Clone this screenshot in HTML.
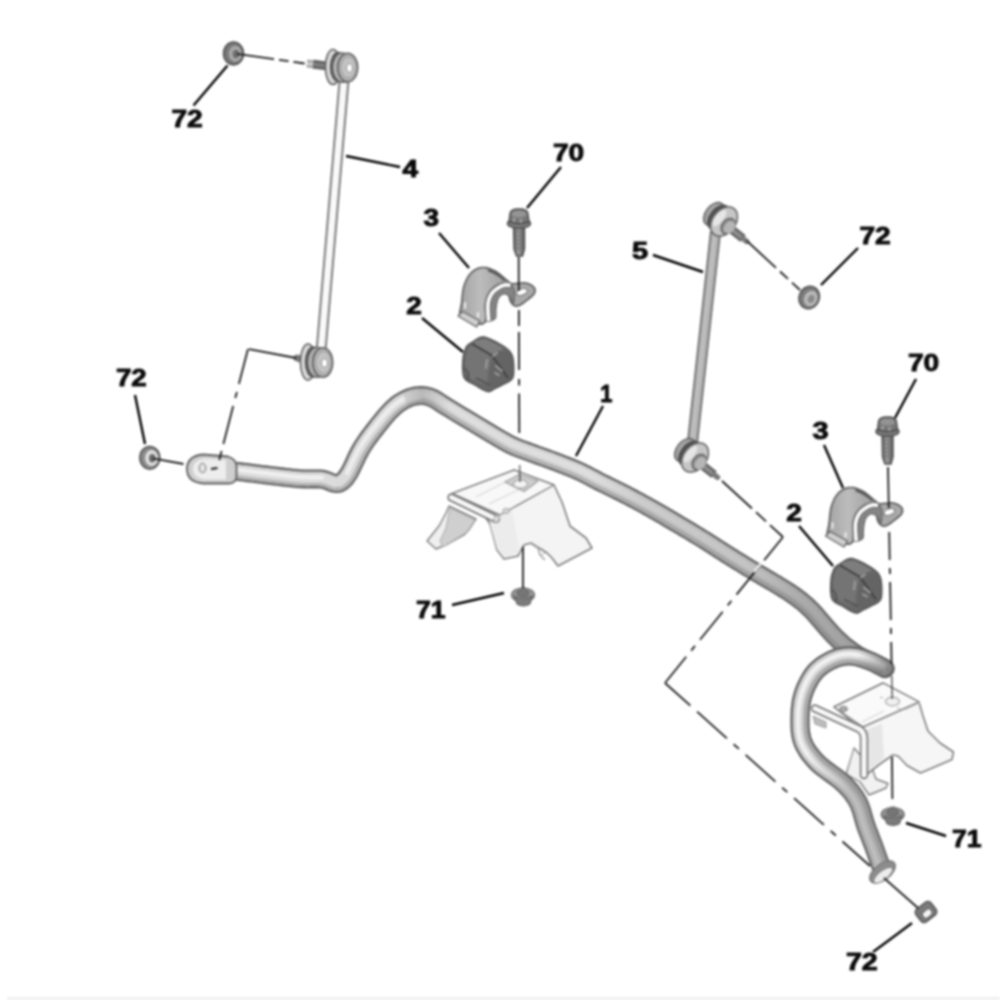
<!DOCTYPE html>
<html lang="en"><head><meta charset="utf-8"><title>Anti-roll bar diagram</title>
<style>
html,body{margin:0;padding:0;background:#fff;}
body{width:1000px;height:1000px;overflow:hidden;position:relative;}
svg{display:block;position:absolute;left:0;top:0;}
.art{filter:blur(0.88px);}
.lbl text{font-family:"Liberation Sans",sans-serif;font-weight:bold;font-size:23.2px;fill:#0a0a0a;stroke:#0a0a0a;stroke-width:.9px;}
.lbl{filter:blur(0.88px);}
</style></head><body>
<svg width="1000" height="1000" viewBox="0 0 1000 1000">
<g class="art">
<defs>
<linearGradient id="gBolt" x1="0" x2="1" y1="0" y2="0"><stop offset="0" stop-color="#5e5e5e"/><stop offset=".45" stop-color="#9c9c9c"/><stop offset="1" stop-color="#585858"/></linearGradient>
<linearGradient id="gClamp" x1="0" x2="1" y1="0" y2="0"><stop offset="0" stop-color="#a2a2a2"/><stop offset=".4" stop-color="#bcbcbc"/><stop offset="1" stop-color="#9a9a9a"/></linearGradient>
<linearGradient id="gTip" gradientUnits="userSpaceOnUse" x1="858" y1="655" x2="892" y2="675"><stop offset="0" stop-color="#6a6a6a" stop-opacity="0"/><stop offset="1" stop-color="#5a5a5a" stop-opacity=".75"/></linearGradient>
<linearGradient id="gPeak" gradientUnits="userSpaceOnUse" x1="395" y1="400" x2="450" y2="400"><stop offset="0" stop-color="#777" stop-opacity="0"/><stop offset=".5" stop-color="#777" stop-opacity=".35"/><stop offset="1" stop-color="#777" stop-opacity="0"/></linearGradient>
<linearGradient id="gJun" gradientUnits="userSpaceOnUse" x1="590" y1="0" x2="850" y2="0"><stop offset="0" stop-color="#707070" stop-opacity="0"/><stop offset=".2" stop-color="#707070" stop-opacity=".16"/><stop offset=".6" stop-color="#707070" stop-opacity=".24"/><stop offset=".8" stop-color="#707070" stop-opacity=".45"/><stop offset="1" stop-color="#707070" stop-opacity=".55"/></linearGradient>
<linearGradient id="gLow" gradientUnits="userSpaceOnUse" x1="810" y1="750" x2="850" y2="790"><stop offset="0" stop-color="#8a8a8a" stop-opacity="0"/><stop offset="1" stop-color="#8a8a8a" stop-opacity=".5"/></linearGradient>
</defs>
<rect x="7" y="997" width="993" height="3" fill="#f0f0f0"/>
<g stroke-linejoin="round">
<path d="M472.0,492.0 514.0,470.0 554.0,485.0 562.0,502.0 570.0,526.0 586.0,538.0 592.0,548.0 558.0,566.0 552.0,558.0 547.0,553.0 531.0,543.0 524.0,545.0 518.0,556.0 504.0,559.0 497.0,550.0 490.0,524.0 486.0,518.0Z" fill="#f4f4f4" stroke="#7e7e7e" stroke-width="1.6"/>
<path d="M449.0,506.0 476.0,519.0 468.0,531.0 464.0,535.0 448.0,544.0 436.0,549.0 427.0,541.0 439.0,526.0 446.0,513.0Z" fill="#efefef" stroke="#7e7e7e" stroke-width="1.4"/>
<path d="M450.0,508.0 475.0,520.0 467.0,532.0 443.0,547.0 440.0,541.0 446.0,528.0Z" fill="#cfcfcf" stroke="#ababab" stroke-width="1"/>
<path d="M452.0,493.5 514.0,470.0 554.0,485.0 500.0,515.0Z" fill="#f8f8f8" stroke="#808080" stroke-width="1.4"/>
<path d="M489,504 L520,489 M476,497 L507,481" stroke="#d0d0d0" stroke-width="1" fill="none"/>
<path d="M500.0,516.0 512.0,510.0 520.0,552.0 504.0,558.0 497.0,549.0 490.0,524.0Z" fill="#ececec" stroke="none"/>
<path d="M451.5,497.5 L496,519" stroke="#707070" stroke-width="8.4" stroke-linecap="round" fill="none"/>
<path d="M451.5,497.5 L496,519" stroke="#f6f6f6" stroke-width="5.2" stroke-linecap="round" fill="none"/>
<ellipse cx="496.5" cy="519" rx="2.6" ry="3.4" fill="#ddd" stroke="#a5a5a5" stroke-width="1" transform="rotate(25 496.5 519)"/>
<path d="M505.0,482.0 519.0,474.5 538.0,481.0 524.0,491.5Z" fill="#cfcfcf" stroke="#9c9c9c" stroke-width="1.2"/>
<ellipse cx="520.5" cy="484" rx="7" ry="4.2" fill="#f4f4f4" stroke="#a8a8a8" stroke-width="1.2"/>
<ellipse cx="506" cy="511" rx="3.2" ry="2.5" fill="#d8d8d8" stroke="#a2a2a2" stroke-width="1"/>
<path d="M530,543 L538,548 L540,555 L545,560" stroke="#a0a0a0" stroke-width="1.5" fill="none"/>
<path d="M539,550 l4,-2 M541,555 l4,-2" stroke="#b0b0b0" stroke-width="1" fill="none"/>
</g>
<g stroke-linejoin="round">
<path d="M846.0,774.0 854.0,748.0 872.0,768.0 876.0,779.0 888.0,783.5 886.0,788.0 869.0,795.0 860.0,782.0Z" fill="#f1f1f1" stroke="#7e7e7e" stroke-width="1.4"/>
<path d="M834.0,707.0 883.0,683.0 919.0,702.0 923.0,716.0 928.0,731.0 940.0,743.0 953.5,752.0 952.0,759.5 920.5,773.0 907.0,765.5 898.0,756.0 893.0,755.0 880.0,764.0 866.0,775.0 864.0,776.0 864.0,736.0 860.0,728.0Z" fill="#f6f6f6" stroke="#7e7e7e" stroke-width="1.6"/>
<path d="M834.0,707.0 883.0,683.0 919.0,702.0 863.0,727.0Z" fill="#fafafa" stroke="#808080" stroke-width="1.4"/>
<path d="M862,722 L884,711 M905,710 L920,703" stroke="#cfcfcf" stroke-width="1" fill="none"/>
<path d="M866.0,730.0 882.0,724.0 884.0,758.0 872.0,768.0 866.0,774.0Z" fill="#e6e6e6" stroke="none"/>
<path d="M813.0,716.0 826.0,722.0 826.0,728.0 815.0,724.0Z" fill="#bdbdbd" stroke="#999" stroke-width="1"/>
<path d="M815,708.5 L859,729 Q864,732 864,738 L864,775" stroke="#707070" stroke-width="8.4" stroke-linecap="round" fill="none"/>
<path d="M815,708.5 L859,729 Q864,732 864,738 L864,775" stroke="#f7f7f7" stroke-width="5.2" stroke-linecap="round" fill="none"/>
<path d="M854,747 L847,773" stroke="#b5b5b5" stroke-width="1.3" fill="none"/>
<ellipse cx="892.5" cy="701.5" rx="7" ry="4.3" fill="#f0f0f0" stroke="#a8a8a8" stroke-width="1.2"/>
<path d="M880,697 l3,1 M897,708 l3,1" stroke="#aaa" stroke-width="1"/>
<ellipse cx="843.5" cy="709" rx="4" ry="2.8" fill="#a8a8a8" stroke="#8d8d8d" stroke-width="1"/>
</g>
<g class="tube"><path d="M236.0,471.2 237.9,471.4 240.4,471.8 243.2,472.1 246.5,472.5 250.0,473.0 253.7,473.4 257.4,473.9 261.1,474.4 264.7,474.8 268.0,475.2 271.2,475.6 274.6,476.0 277.9,476.4 281.3,476.8 284.6,477.2 287.9,477.5 291.1,477.9 294.2,478.2 297.2,478.5 300.0,478.7 302.6,478.9 305.2,478.9 307.7,479.0 310.0,478.9 312.2,478.9 314.4,478.9 316.4,478.9 318.4,478.9 320.2,479.0 322.0,479.2 323.6,479.5 325.1,479.9 326.5,480.3 327.8,480.8 328.9,481.3 330.0,481.8 331.1,482.3 332.1,482.7 333.0,483.0 334.0,483.2 334.9,483.3 335.7,483.4 336.4,483.5 337.1,483.5 337.8,483.5 338.4,483.4 339.0,483.2 339.6,483.0 340.3,482.6 341.0,482.2 341.7,481.7 342.5,481.2 343.2,480.6 343.9,479.9 344.6,479.1 345.4,478.3 346.2,477.3 347.0,476.1 347.9,474.7 348.9,473.2 349.9,471.4 351.0,469.3 352.1,467.0 353.3,464.5 354.5,461.9 355.8,459.2 357.0,456.6 358.3,454.0 359.6,451.5 360.9,449.2 362.2,447.0 363.5,444.9 364.9,442.9 366.2,440.9 367.6,438.9 369.0,437.0 370.4,435.1 371.9,433.1 373.4,431.2 374.9,429.2 376.5,427.2 378.2,425.0 379.9,422.9 381.7,420.7 383.5,418.5 385.2,416.4 387.0,414.4 388.7,412.5 390.3,410.8 391.9,409.2 393.4,407.8 394.8,406.5 396.1,405.4 397.4,404.4 398.6,403.4 399.9,402.6 401.1,401.8 402.4,401.1 403.6,400.4 404.9,399.7 406.2,399.1 407.5,398.5 408.8,397.9 410.1,397.4 411.4,397.0 412.8,396.6 414.1,396.3 415.4,396.0 416.7,395.8 418.0,395.7 419.3,395.6 420.6,395.6 421.8,395.6 423.1,395.6 424.4,395.7 425.7,395.9 427.0,396.2 428.3,396.5 429.6,396.9 431.0,397.4 432.4,398.0 433.7,398.6 435.1,399.4 436.4,400.2 437.8,401.1 439.3,402.1 440.8,403.1 442.4,404.1 444.1,405.2 446.0,406.4 448.0,407.6 450.2,408.9 452.5,410.3 454.9,411.8 457.4,413.3 459.9,414.8 462.4,416.3 465.0,417.9 467.5,419.4 470.0,420.9 472.5,422.4 475.1,424.0 477.7,425.5 480.3,427.1 482.9,428.7 485.5,430.3 488.1,431.8 490.5,433.2 492.8,434.6 495.0,435.9 497.0,437.1 498.9,438.2 500.7,439.2 502.3,440.2 503.9,441.1 505.5,442.0 507.1,442.9 508.7,443.7 510.3,444.6 512.0,445.4 513.8,446.2 515.6,447.0 517.4,447.7 519.3,448.5 521.1,449.2 523.0,449.8 524.8,450.5 526.6,451.1 528.3,451.8 530.0,452.4 531.6,453.0 533.2,453.6 534.7,454.1 536.2,454.7 537.7,455.2 539.1,455.7 540.6,456.2 542.0,456.7 543.5,457.3 545.0,457.8 546.5,458.3 547.9,458.9 549.3,459.4 550.8,459.9 552.2,460.4 553.6,461.0 555.1,461.5 556.7,462.1 558.3,462.7 560.0,463.4 561.8,464.1 563.7,464.8 565.6,465.6 567.6,466.4 569.7,467.2 571.8,468.0 573.8,468.9 575.9,469.8 578.0,470.7 580.0,471.6 582.0,472.5 583.8,473.5 585.7,474.4 587.5,475.3 589.4,476.3 591.3,477.3 593.3,478.4 595.4,479.5 597.6,480.7 600.0,481.9 602.6,483.2 605.4,484.6 608.3,486.0 611.3,487.5 614.4,489.0 617.5,490.6 620.7,492.1 623.8,493.7 627.0,495.3 630.0,496.9 633.0,498.5 635.8,500.0 638.7,501.5 641.5,503.1 644.4,504.6 647.3,506.3 650.3,507.9 653.4,509.7 656.6,511.5 660.0,513.5 663.7,515.6 667.7,518.0 671.9,520.5 676.2,523.0 680.6,525.6 685.0,528.2 689.2,530.7 693.1,533.1 696.8,535.3 700.0,537.3 702.8,539.0 705.4,540.6 707.6,542.0 709.7,543.3 711.6,544.5 713.3,545.7 715.0,546.8 716.6,547.8 718.3,548.9 720.0,550.0 721.7,551.1 723.2,552.0 724.6,552.9 725.9,553.8 727.2,554.6 728.5,555.4 729.9,556.3 731.4,557.3 733.1,558.3 735.0,559.5 737.1,560.8 739.4,562.2 741.9,563.7 744.5,565.3 747.2,567.0 749.9,568.6 752.6,570.2 755.2,571.8 757.7,573.3 760.0,574.7 762.2,576.0 764.4,577.3 766.5,578.5 768.5,579.7 770.5,580.9 772.5,582.0 774.4,583.1 776.3,584.2 778.1,585.4 780.0,586.5 781.8,587.6 783.6,588.8 785.4,589.9 787.2,591.0 788.9,592.1 790.6,593.2 792.2,594.3 793.8,595.4 795.4,596.6 797.0,597.7 798.5,598.9 800.0,600.0 801.5,601.2 803.0,602.4 804.4,603.6 805.8,604.8 807.1,606.0 808.4,607.3 809.7,608.5 811.0,609.7 812.2,610.9 813.4,612.2 814.5,613.4 815.6,614.6 816.6,615.9 817.7,617.1 818.7,618.4 819.8,619.6 820.9,620.9 822.0,622.2 823.2,623.5 824.3,624.9 825.5,626.3 826.7,627.6 827.9,629.0 829.2,630.4 830.4,631.8 831.6,633.1 832.8,634.4 834.0,635.7 835.2,636.9 836.4,638.1 837.6,639.3 838.8,640.4 840.0,641.5 841.2,642.6 842.4,643.7 843.6,644.7 844.8,645.7 846.0,646.7 847.2,647.7 848.4,648.6 849.7,649.5 850.9,650.4 852.1,651.3 853.3,652.2 854.5,653.0 855.7,653.8 856.9,654.5 858.0,655.2 859.1,655.9 860.3,656.5 861.5,657.1 862.6,657.7 863.8,658.2 864.8,658.7 865.8,659.2 866.7,659.6 867.4,659.9 868.0,660.2" fill="none" stroke="#626262" stroke-width="19.0" stroke-linecap="butt" stroke-linejoin="round"/>
<path d="M236.0,471.2 237.9,471.4 240.4,471.8 243.2,472.1 246.5,472.5 250.0,473.0 253.7,473.4 257.4,473.9 261.1,474.4 264.7,474.8 268.0,475.2 271.2,475.6 274.6,476.0 277.9,476.4 281.3,476.8 284.6,477.2 287.9,477.5 291.1,477.9 294.2,478.2 297.2,478.5 300.0,478.7 302.6,478.9 305.2,478.9 307.7,479.0 310.0,478.9 312.2,478.9 314.4,478.9 316.4,478.9 318.4,478.9 320.2,479.0 322.0,479.2 323.6,479.5 325.1,479.9 326.5,480.3 327.8,480.8 328.9,481.3 330.0,481.8 331.1,482.3 332.1,482.7 333.0,483.0 334.0,483.2 334.9,483.3 335.7,483.4 336.4,483.5 337.1,483.5 337.8,483.5 338.4,483.4 339.0,483.2 339.6,483.0 340.3,482.6 341.0,482.2 341.7,481.7 342.5,481.2 343.2,480.6 343.9,479.9 344.6,479.1 345.4,478.3 346.2,477.3 347.0,476.1 347.9,474.7 348.9,473.2 349.9,471.4 351.0,469.3 352.1,467.0 353.3,464.5 354.5,461.9 355.8,459.2 357.0,456.6 358.3,454.0 359.6,451.5 360.9,449.2 362.2,447.0 363.5,444.9 364.9,442.9 366.2,440.9 367.6,438.9 369.0,437.0 370.4,435.1 371.9,433.1 373.4,431.2 374.9,429.2 376.5,427.2 378.2,425.0 379.9,422.9 381.7,420.7 383.5,418.5 385.2,416.4 387.0,414.4 388.7,412.5 390.3,410.8 391.9,409.2 393.4,407.8 394.8,406.5 396.1,405.4 397.4,404.4 398.6,403.4 399.9,402.6 401.1,401.8 402.4,401.1 403.6,400.4 404.9,399.7 406.2,399.1 407.5,398.5 408.8,397.9 410.1,397.4 411.4,397.0 412.8,396.6 414.1,396.3 415.4,396.0 416.7,395.8 418.0,395.7 419.3,395.6 420.6,395.6 421.8,395.6 423.1,395.6 424.4,395.7 425.7,395.9 427.0,396.2 428.3,396.5 429.6,396.9 431.0,397.4 432.4,398.0 433.7,398.6 435.1,399.4 436.4,400.2 437.8,401.1 439.3,402.1 440.8,403.1 442.4,404.1 444.1,405.2 446.0,406.4 448.0,407.6 450.2,408.9 452.5,410.3 454.9,411.8 457.4,413.3 459.9,414.8 462.4,416.3 465.0,417.9 467.5,419.4 470.0,420.9 472.5,422.4 475.1,424.0 477.7,425.5 480.3,427.1 482.9,428.7 485.5,430.3 488.1,431.8 490.5,433.2 492.8,434.6 495.0,435.9 497.0,437.1 498.9,438.2 500.7,439.2 502.3,440.2 503.9,441.1 505.5,442.0 507.1,442.9 508.7,443.7 510.3,444.6 512.0,445.4 513.8,446.2 515.6,447.0 517.4,447.7 519.3,448.5 521.1,449.2 523.0,449.8 524.8,450.5 526.6,451.1 528.3,451.8 530.0,452.4 531.6,453.0 533.2,453.6 534.7,454.1 536.2,454.7 537.7,455.2 539.1,455.7 540.6,456.2 542.0,456.7 543.5,457.3 545.0,457.8 546.5,458.3 547.9,458.9 549.3,459.4 550.8,459.9 552.2,460.4 553.6,461.0 555.1,461.5 556.7,462.1 558.3,462.7 560.0,463.4 561.8,464.1 563.7,464.8 565.6,465.6 567.6,466.4 569.7,467.2 571.8,468.0 573.8,468.9 575.9,469.8 578.0,470.7 580.0,471.6 582.0,472.5 583.8,473.5 585.7,474.4 587.5,475.3 589.4,476.3 591.3,477.3 593.3,478.4 595.4,479.5 597.6,480.7 600.0,481.9 602.6,483.2 605.4,484.6 608.3,486.0 611.3,487.5 614.4,489.0 617.5,490.6 620.7,492.1 623.8,493.7 627.0,495.3 630.0,496.9 633.0,498.5 635.8,500.0 638.7,501.5 641.5,503.1 644.4,504.6 647.3,506.3 650.3,507.9 653.4,509.7 656.6,511.5 660.0,513.5 663.7,515.6 667.7,518.0 671.9,520.5 676.2,523.0 680.6,525.6 685.0,528.2 689.2,530.7 693.1,533.1 696.8,535.3 700.0,537.3 702.8,539.0 705.4,540.6 707.6,542.0 709.7,543.3 711.6,544.5 713.3,545.7 715.0,546.8 716.6,547.8 718.3,548.9 720.0,550.0 721.7,551.1 723.2,552.0 724.6,552.9 725.9,553.8 727.2,554.6 728.5,555.4 729.9,556.3 731.4,557.3 733.1,558.3 735.0,559.5 737.1,560.8 739.4,562.2 741.9,563.7 744.5,565.3 747.2,567.0 749.9,568.6 752.6,570.2 755.2,571.8 757.7,573.3 760.0,574.7 762.2,576.0 764.4,577.3 766.5,578.5 768.5,579.7 770.5,580.9 772.5,582.0 774.4,583.1 776.3,584.2 778.1,585.4 780.0,586.5 781.8,587.6 783.6,588.8 785.4,589.9 787.2,591.0 788.9,592.1 790.6,593.2 792.2,594.3 793.8,595.4 795.4,596.6 797.0,597.7 798.5,598.9 800.0,600.0 801.5,601.2 803.0,602.4 804.4,603.6 805.8,604.8 807.1,606.0 808.4,607.3 809.7,608.5 811.0,609.7 812.2,610.9 813.4,612.2 814.5,613.4 815.6,614.6 816.6,615.9 817.7,617.1 818.7,618.4 819.8,619.6 820.9,620.9 822.0,622.2 823.2,623.5 824.3,624.9 825.5,626.3 826.7,627.6 827.9,629.0 829.2,630.4 830.4,631.8 831.6,633.1 832.8,634.4 834.0,635.7 835.2,636.9 836.4,638.1 837.6,639.3 838.8,640.4 840.0,641.5 841.2,642.6 842.4,643.7 843.6,644.7 844.8,645.7 846.0,646.7 847.2,647.7 848.4,648.6 849.7,649.5 850.9,650.4 852.1,651.3 853.3,652.2 854.5,653.0 855.7,653.8 856.9,654.5 858.0,655.2 859.1,655.9 860.3,656.5 861.5,657.1 862.6,657.7 863.8,658.2 864.8,658.7 865.8,659.2 866.7,659.6 867.4,659.9 868.0,660.2" fill="none" stroke="#d2d2d2" stroke-width="14.4" stroke-linecap="butt" stroke-linejoin="round"/>
<path d="M235.3,476.6 237.2,476.8 239.7,477.1 242.6,477.5 245.8,477.9 249.3,478.3 253.0,478.8 256.7,479.3 260.4,479.7 264.0,480.2 267.4,480.6 270.6,480.9 273.9,481.3 277.3,481.7 280.7,482.1 284.0,482.5 287.3,482.9 290.6,483.3 293.7,483.6 296.7,483.9 299.6,484.1 302.4,484.3 305.1,484.3 307.6,484.4 310.0,484.3 312.3,484.3 314.4,484.3 316.4,484.3 318.2,484.3 319.8,484.4 321.3,484.6 322.5,484.8 323.6,485.0 324.7,485.4 325.7,485.8 326.8,486.2 327.8,486.7 329.0,487.2 330.2,487.7 331.6,488.2 333.0,488.5 334.1,488.7 335.1,488.8 336.1,488.9 337.1,488.9 338.3,488.9 339.5,488.7 340.7,488.4 341.9,487.9 343.0,487.3 344.0,486.7 344.9,486.1 345.8,485.4 346.7,484.6 347.7,483.8 348.6,482.8 349.6,481.7 350.5,480.5 351.5,479.2 352.5,477.7 353.5,476.0 354.7,474.0 355.8,471.7 357.0,469.3 358.2,466.8 359.4,464.2 360.6,461.5 361.9,458.9 363.1,456.4 364.3,454.1 365.6,451.9 366.8,449.9 368.1,447.9 369.4,445.9 370.7,444.0 372.0,442.1 373.3,440.2 374.7,438.3 376.2,436.4 377.7,434.5 379.2,432.5 380.7,430.5 382.4,428.4 384.1,426.3 385.8,424.1 387.6,422.0 389.3,420.0 391.0,418.0 392.7,416.2 394.2,414.5 395.7,413.0 397.0,411.8 398.3,410.6 399.5,409.6 400.7,408.7 401.8,407.8 402.9,407.1 403.9,406.4 405.0,405.8 406.2,405.1 407.4,404.5 408.5,403.9 409.7,403.4 410.8,402.9 411.9,402.5 413.0,402.2 414.1,401.8 415.2,401.6 416.3,401.4 417.4,401.2 418.5,401.1 419.6,401.0 420.7,401.0 421.7,401.0 422.7,401.0 423.7,401.1 424.8,401.2 425.8,401.4 426.8,401.7 427.9,402.0 429.0,402.4 430.1,402.9 431.2,403.4 432.4,404.1 433.6,404.8 434.9,405.6 436.3,406.6 437.8,407.6 439.4,408.7 441.3,409.8 443.2,411.0 445.2,412.2 447.4,413.6 449.7,415.0 452.1,416.4 454.6,417.9 457.1,419.4 459.6,421.0 462.2,422.5 464.7,424.0 467.2,425.5 469.7,427.0 472.3,428.6 474.9,430.2 477.5,431.8 480.1,433.3 482.7,434.9 485.3,436.4 487.7,437.9 490.1,439.3 492.3,440.6 494.3,441.7 496.1,442.8 497.9,443.9 499.6,444.9 501.2,445.8 502.9,446.8 504.5,447.7 506.2,448.5 507.9,449.4 509.7,450.3 511.6,451.1 513.5,452.0 515.4,452.7 517.3,453.5 519.2,454.2 521.1,454.9 522.9,455.6 524.7,456.2 526.5,456.8 528.1,457.5 529.8,458.1 531.3,458.7 532.9,459.2 534.4,459.8 535.9,460.3 537.3,460.8 538.8,461.3 540.2,461.8 541.7,462.3 543.1,462.9 544.6,463.4 546.1,463.9 547.5,464.5 548.9,465.0 550.3,465.5 551.8,466.0 553.2,466.6 554.7,467.2 556.3,467.8 558.0,468.4 559.8,469.1 561.7,469.9 563.7,470.6 565.7,471.4 567.7,472.2 569.7,473.0 571.8,473.9 573.8,474.7 575.8,475.6 577.7,476.5 579.6,477.4 581.4,478.3 583.2,479.2 585.0,480.1 586.8,481.1 588.7,482.1 590.7,483.2 592.9,484.3 595.1,485.5 597.6,486.7 600.2,488.0 603.0,489.4 605.9,490.8 608.9,492.3 612.0,493.9 615.1,495.4 618.3,497.0 621.4,498.5 624.5,500.1 627.5,501.7 630.4,503.2 633.3,504.8 636.1,506.3 638.9,507.8 641.8,509.4 644.6,511.0 647.6,512.6 650.7,514.4 653.9,516.2 657.3,518.2 661.0,520.3 664.9,522.6 669.1,525.1 673.5,527.7 677.9,530.3 682.2,532.9 686.4,535.4 690.3,537.8 694.0,540.0 697.2,541.9 700.0,543.6 702.5,545.2 704.7,546.6 706.8,547.9 708.6,549.1 710.4,550.2 712.1,551.3 713.7,552.4 715.4,553.5 717.1,554.6 718.8,555.6 720.3,556.6 721.6,557.5 723.0,558.3 724.3,559.1 725.6,560.0 727.0,560.9 728.6,561.9 730.3,562.9 732.2,564.1 734.3,565.4 736.6,566.8 739.1,568.4 741.7,569.9 744.4,571.6 747.1,573.2 749.8,574.8 752.4,576.4 754.9,577.9 757.2,579.3 759.5,580.7 761.6,581.9 763.7,583.2 765.8,584.4 767.8,585.5 769.7,586.7 771.6,587.8 773.5,588.9 775.3,590.0 777.2,591.1 779.0,592.2 780.8,593.3 782.5,594.4 784.3,595.5 785.9,596.6 787.6,597.7 789.2,598.8 790.7,599.8 792.3,600.9 793.8,602.0 795.2,603.1 796.7,604.3 798.1,605.4 799.5,606.6 800.9,607.7 802.2,608.9 803.5,610.0 804.8,611.2 806.0,612.4 807.2,613.5 808.3,614.7 809.4,615.8 810.5,617.0 811.5,618.1 812.5,619.3 813.5,620.6 814.6,621.8 815.7,623.1 816.8,624.4 817.9,625.8 819.1,627.1 820.3,628.4 821.4,629.8 822.6,631.2 823.9,632.6 825.1,634.0 826.3,635.4 827.6,636.8 828.9,638.2 830.1,639.5 831.4,640.7 832.6,642.0 833.9,643.2 835.1,644.3 836.4,645.5 837.6,646.6 838.8,647.7 840.1,648.8 841.3,649.9 842.6,650.9 843.9,651.9 845.2,652.9 846.4,653.9 847.7,654.8 849.0,655.7 850.3,656.6 851.5,657.5 852.8,658.3 854.0,659.1 855.2,659.8 856.5,660.6 857.7,661.3 859.0,661.9 860.3,662.5 861.4,663.1 862.6,663.6 863.6,664.1 864.4,664.5 865.1,664.8 865.7,665.1" fill="none" stroke="#b2b2b2" stroke-width="3.6" stroke-linecap="butt" stroke-linejoin="round"/>
<path d="M236.2,469.7 238.1,470.0 240.5,470.3 243.4,470.6 246.7,471.0 250.2,471.5 253.9,472.0 257.6,472.4 261.3,472.9 264.8,473.3 268.2,473.7 271.4,474.1 274.7,474.5 278.1,474.9 281.5,475.3 284.8,475.7 288.1,476.0 291.3,476.4 294.4,476.7 297.3,477.0 300.1,477.2 302.7,477.4 305.2,477.4 307.7,477.5 310.0,477.4 312.2,477.4 314.4,477.4 316.5,477.4 318.5,477.4 320.4,477.5 322.2,477.7 323.9,478.0 325.5,478.4 327.0,478.9 328.3,479.4 329.5,479.9 330.7,480.4 331.7,480.9 332.6,481.3 333.5,481.5 334.3,481.7 335.1,481.9 335.9,482.0 336.5,482.0 337.1,482.0 337.6,482.0 338.1,481.9 338.5,481.8 339.0,481.6 339.5,481.3 340.2,480.9 340.9,480.5 341.5,480.0 342.2,479.4 342.9,478.8 343.5,478.1 344.2,477.3 345.0,476.4 345.8,475.2 346.7,473.9 347.6,472.4 348.6,470.7 349.7,468.6 350.8,466.3 352.0,463.9 353.2,461.3 354.4,458.6 355.7,455.9 357.0,453.3 358.3,450.8 359.6,448.4 360.9,446.3 362.3,444.1 363.6,442.1 365.0,440.1 366.4,438.1 367.8,436.1 369.2,434.2 370.7,432.2 372.2,430.3 373.7,428.3 375.3,426.2 377.0,424.1 378.7,421.9 380.5,419.7 382.3,417.6 384.1,415.5 385.9,413.4 387.6,411.5 389.3,409.7 390.8,408.1 392.3,406.7 393.8,405.4 395.1,404.2 396.5,403.2 397.8,402.2 399.1,401.3 400.3,400.5 401.6,399.8 402.9,399.1 404.2,398.4 405.6,397.7 406.9,397.1 408.3,396.5 409.6,396.0 411.0,395.6 412.4,395.2 413.8,394.8 415.1,394.6 416.5,394.4 417.9,394.2 419.2,394.1 420.5,394.1 421.9,394.1 423.2,394.1 424.6,394.2 425.9,394.4 427.3,394.7 428.7,395.1 430.1,395.5 431.5,396.0 433.0,396.6 434.4,397.3 435.8,398.1 437.2,398.9 438.6,399.8 440.1,400.8 441.6,401.8 443.2,402.9 444.9,404.0 446.8,405.1 448.8,406.3 451.0,407.7 453.3,409.0 455.7,410.5 458.2,412.0 460.7,413.5 463.2,415.1 465.8,416.6 468.3,418.1 470.8,419.6 473.3,421.1 475.8,422.7 478.5,424.3 481.1,425.8 483.7,427.4 486.3,429.0 488.8,430.5 491.3,432.0 493.6,433.3 495.8,434.6 497.8,435.8 499.7,436.9 501.4,437.9 503.1,438.9 504.7,439.8 506.2,440.7 507.8,441.6 509.4,442.4 511.0,443.2 512.6,444.0 514.4,444.8 516.2,445.6 518.0,446.3 519.8,447.1 521.6,447.8 523.5,448.4 525.3,449.1 527.1,449.7 528.8,450.4 530.5,451.0 532.1,451.6 533.7,452.2 535.2,452.7 536.7,453.3 538.2,453.8 539.6,454.3 541.1,454.8 542.6,455.3 544.0,455.8 545.5,456.4 547.0,456.9 548.4,457.5 549.9,458.0 551.3,458.5 552.7,459.0 554.2,459.6 555.7,460.1 557.2,460.7 558.8,461.3 560.5,462.0 562.3,462.7 564.2,463.4 566.2,464.2 568.2,465.0 570.2,465.8 572.3,466.7 574.4,467.5 576.5,468.4 578.6,469.3 580.6,470.2 582.6,471.2 584.5,472.1 586.4,473.1 588.2,474.0 590.1,475.0 592.0,476.0 594.0,477.1 596.1,478.2 598.3,479.3 600.7,480.6 603.3,481.9 606.0,483.2 608.9,484.7 611.9,486.1 615.0,487.7 618.2,489.2 621.4,490.8 624.5,492.4 627.6,494.0 630.7,495.6 633.7,497.1 636.5,498.7 639.4,500.2 642.2,501.8 645.1,503.3 648.0,505.0 651.0,506.6 654.1,508.4 657.3,510.2 660.8,512.2 664.4,514.3 668.4,516.7 672.7,519.2 677.0,521.7 681.4,524.4 685.7,526.9 689.9,529.5 693.9,531.9 697.5,534.1 700.8,536.0 703.6,537.8 706.2,539.3 708.4,540.8 710.5,542.1 712.4,543.3 714.1,544.4 715.8,545.5 717.5,546.6 719.1,547.6 720.8,548.7 722.5,549.8 724.0,550.7 725.4,551.6 726.7,552.5 728.0,553.3 729.3,554.2 730.7,555.1 732.2,556.0 733.9,557.1 735.8,558.2 737.9,559.5 740.2,561.0 742.7,562.5 745.3,564.1 748.0,565.7 750.7,567.3 753.3,568.9 755.9,570.5 758.4,572.0 760.8,573.4 763.0,574.7 765.1,576.0 767.2,577.2 769.3,578.4 771.3,579.6 773.2,580.7 775.1,581.8 777.0,582.9 778.9,584.1 780.8,585.2 782.6,586.4 784.4,587.5 786.2,588.6 788.0,589.7 789.7,590.8 791.4,591.9 793.1,593.1 794.7,594.2 796.3,595.3 797.9,596.5 799.5,597.7 801.0,598.9 802.5,600.1 803.9,601.3 805.4,602.5 806.8,603.7 808.1,604.9 809.5,606.2 810.8,607.4 812.1,608.6 813.3,609.9 814.5,611.1 815.6,612.4 816.7,613.6 817.8,614.9 818.8,616.1 819.9,617.4 820.9,618.7 822.0,619.9 823.1,621.2 824.3,622.5 825.5,623.9 826.7,625.3 827.9,626.7 829.1,628.1 830.3,629.4 831.5,630.8 832.7,632.1 833.9,633.4 835.1,634.7 836.3,635.9 837.4,637.0 838.6,638.2 839.8,639.3 841.0,640.4 842.2,641.5 843.4,642.5 844.6,643.6 845.8,644.6 846.9,645.5 848.1,646.5 849.3,647.4 850.6,648.3 851.8,649.2 853.0,650.1 854.2,650.9 855.4,651.7 856.5,652.5 857.7,653.2 858.8,653.9 859.9,654.6 861.0,655.2 862.1,655.8 863.3,656.3 864.4,656.9 865.4,657.4 866.4,657.8 867.3,658.2 868.1,658.6 868.6,658.8" fill="none" stroke="#dedede" stroke-width="6" stroke-linecap="butt" stroke-linejoin="round"/></g>
<path d="M560.0,463.4 561.2,463.9 562.7,464.5 564.5,465.2 566.6,466.0 568.8,466.9 571.0,467.8 573.4,468.7 575.7,469.7 577.9,470.7 580.0,471.6 582.0,472.5 583.8,473.5 585.7,474.4 587.5,475.3 589.4,476.3 591.3,477.3 593.3,478.4 595.4,479.5 597.6,480.7 600.0,481.9 602.6,483.2 605.4,484.6 608.3,486.0 611.3,487.5 614.4,489.0 617.5,490.6 620.7,492.1 623.8,493.7 627.0,495.3 630.0,496.9 633.0,498.5 635.8,500.0 638.7,501.5 641.5,503.1 644.4,504.6 647.3,506.3 650.3,507.9 653.4,509.7 656.6,511.5 660.0,513.5 663.7,515.6 667.7,518.0 671.9,520.5 676.2,523.0 680.6,525.6 685.0,528.2 689.2,530.7 693.1,533.1 696.8,535.3 700.0,537.3 702.8,539.0 705.4,540.6 707.6,542.0 709.7,543.3 711.6,544.5 713.3,545.7 715.0,546.8 716.6,547.8 718.3,548.9 720.0,550.0 721.7,551.1 723.2,552.0 724.6,552.9 725.9,553.8 727.2,554.6 728.5,555.4 729.9,556.3 731.4,557.3 733.1,558.3 735.0,559.5 737.1,560.8 739.4,562.2 741.9,563.7 744.5,565.3 747.2,567.0 749.9,568.6 752.6,570.2 755.2,571.8 757.7,573.3 760.0,574.7 762.2,576.0 764.4,577.3 766.5,578.5 768.5,579.7 770.5,580.9 772.5,582.0 774.4,583.1 776.3,584.2 778.1,585.4 780.0,586.5 781.8,587.6 783.6,588.8 785.4,589.9 787.2,591.0 788.9,592.1 790.6,593.2 792.2,594.3 793.8,595.4 795.4,596.6 797.0,597.7 798.5,598.9 800.0,600.0 801.5,601.2 803.0,602.4 804.4,603.6 805.8,604.8 807.1,606.0 808.4,607.3 809.7,608.5 811.0,609.7 812.2,610.9 813.4,612.2 814.5,613.4 815.6,614.6 816.6,615.9 817.7,617.1 818.7,618.4 819.8,619.6 820.9,620.9 822.0,622.2 823.2,623.5 824.3,624.9 825.5,626.3 826.7,627.6 827.9,629.0 829.2,630.4 830.4,631.8 831.6,633.1 832.8,634.4 834.0,635.7 835.2,636.9 836.4,638.1 837.6,639.3 838.8,640.4 840.0,641.5 841.2,642.6 842.4,643.7 843.6,644.7 844.8,645.7 846.0,646.7 847.2,647.7 848.4,648.6 849.7,649.5 850.9,650.4 852.1,651.3 853.3,652.2 854.5,653.0 855.7,653.8 856.9,654.5 858.0,655.2 859.1,655.9 860.3,656.5 861.5,657.1 862.6,657.7 863.8,658.2 864.8,658.7 865.8,659.2 866.7,659.6 867.4,659.9 868.0,660.2" fill="none" stroke="url(#gJun)" stroke-width="15" stroke-linecap="butt"/>
<path class="tube" d="M236.2,470.8 238.1,471.0 240.5,471.4 243.4,471.7 246.6,472.1 250.2,472.6 253.8,473.1 257.5,473.5 261.2,474.0 264.8,474.4 268.1,474.8 271.4,475.2 274.7,475.6 278.1,476.0 281.4,476.4 284.8,476.8 288.1,477.1 291.3,477.5 294.4,477.8 297.3,478.1 300.1,478.3 302.7,478.5 305.2,478.5 307.7,478.6 310.0,478.5 312.2,478.5 314.4,478.5 316.5,478.5 318.4,478.5 320.3,478.6 322.2,478.8 323.9,479.1 325.5,479.5 327.1,479.9 328.5,480.4 329.8,480.9 331.0,481.4 332.1,481.9 333.0,482.3 333.8,482.6 334.4,482.9" fill="none" stroke="#dcdcdc" stroke-width="9" stroke-opacity="0.9" stroke-linecap="round"/>
<path class="tube" d="M236.3,469.5 238.2,469.8 240.7,470.1 243.6,470.4 246.8,470.9 250.3,471.3 254.0,471.8 257.7,472.2 261.4,472.7 265.0,473.1 268.3,473.5 271.5,473.9 274.9,474.3 278.2,474.7 281.6,475.1 284.9,475.5 288.2,475.9 291.4,476.2 294.5,476.5 297.4,476.8 300.2,477.0 302.8,477.2 305.5,477.3 308.1,477.4 310.6,477.4 313.0,477.5 315.3,477.5 317.3,477.5 319.2,477.5 320.8,477.5 322.0,477.5" fill="none" stroke="#f2f2f2" stroke-width="4" stroke-opacity="0.9" stroke-linecap="round"/>
<path class="tube" d="M340.1,482.2 340.6,481.7 341.2,481.1 341.9,480.5 342.6,479.9 343.4,479.1 344.2,478.3 345.1,477.3 346.0,476.2 346.9,474.9 347.9,473.4 348.9,471.6 349.9,469.6 351.1,467.3 352.2,464.8 353.4,462.2 354.7,459.5 355.9,456.9 357.2,454.2 358.5,451.7 359.9,449.4 361.2,447.2 362.5,445.1 363.9,443.0 365.2,441.0 366.6,439.1 368.0,437.1 369.5,435.2 370.9,433.2 372.4,431.3 374.0,429.3 375.6,427.2 377.2,425.1 379.0,422.9 380.7,420.7 382.5,418.6 384.3,416.5 386.1,414.4 387.8,412.5 389.5,410.7 391.1,409.1 392.5,407.7 394.0,406.4 395.3,405.3 396.7,404.2 397.9,403.3 399.2,402.4 400.5,401.6 401.8,400.8 403.0,400.1 404.4,399.4 405.8,398.8 407.3,398.2 408.9,397.6 410.4,397.2 412.0,396.7 413.4,396.4 414.8,396.1 415.9,395.8 416.9,395.6 417.7,395.3" fill="none" stroke="#dadada" stroke-width="9" stroke-opacity="0.9" stroke-linecap="round"/>
<path class="tube" d="M346.9,473.0 347.6,471.6 348.5,469.7 349.6,467.5 350.8,465.0 352.0,462.3 353.4,459.5 354.8,456.7 356.2,453.9 357.6,451.3 359.0,448.9 360.3,446.7 361.7,444.6 363.0,442.5 364.4,440.5 365.8,438.5 367.2,436.5 368.7,434.6 370.1,432.6 371.6,430.6 373.2,428.7 374.8,426.6 376.5,424.5 378.2,422.3 380.0,420.1 381.8,417.9 383.6,415.8 385.4,413.8 387.1,411.8 388.8,410.1 390.4,408.4 392.0,406.9 393.6,405.6 395.2,404.3 396.7,403.2 398.2,402.2 399.6,401.3 400.9,400.5 402.0,399.8 402.9,399.2 403.7,398.7" fill="none" stroke="#f0f0f0" stroke-width="4" stroke-opacity="0.9" stroke-linecap="round"/>
<path d="M404.9,400.5 405.7,400.2 406.7,399.9 407.9,399.4 409.2,398.9 410.6,398.4 412.1,397.9 413.7,397.4 415.2,397.0 416.6,396.7 418.0,396.5 419.3,396.4 420.6,396.4 421.8,396.4 423.1,396.4 424.4,396.5 425.7,396.7 427.0,397.0 428.3,397.3 429.6,397.7 431.0,398.2 432.4,398.8 433.7,399.4 435.1,400.2 436.4,401.0 437.8,401.9 439.3,402.9 440.8,403.9 442.4,404.9 444.1,406.0 446.0,407.2 448.0,408.4 450.2,409.7 452.5,411.1 454.9,412.6 457.4,414.1 459.9,415.6 462.4,417.1 465.0,418.7 467.5,420.2 470.0,421.7 472.6,423.2 475.3,424.9 478.2,426.6 481.1,428.4 484.0,430.1 486.8,431.8 489.3,433.3 491.6,434.7 493.5,435.8 495.0,436.7" fill="none" stroke="url(#gPeak)" stroke-width="17" stroke-linecap="butt"/>
<g class="tube"><path d="M885.0,668.5 884.1,668.0 883.0,667.4 881.7,666.7 880.2,665.9 878.6,665.1 876.9,664.2 875.2,663.3 873.4,662.5 871.7,661.7 870.0,661.0 868.3,660.4 866.6,659.7 864.8,659.1 863.0,658.4 861.2,657.8 859.3,657.3 857.5,656.8 855.6,656.4 853.8,656.2 852.0,656.0 850.2,655.9 848.4,655.9 846.6,656.0 844.8,656.1 843.1,656.4 841.3,656.7 839.5,657.1 837.7,657.6 835.8,658.3 834.0,659.0 832.1,659.8 830.2,660.8 828.2,661.9 826.1,663.0 824.1,664.2 822.1,665.6 820.2,667.1 818.4,668.6 816.6,670.2 815.0,672.0 813.5,673.9 812.0,675.9 810.6,678.1 809.3,680.4 808.0,682.8 806.8,685.2 805.7,687.6 804.7,690.1 803.8,692.6 803.0,695.0 802.3,697.4 801.7,699.9 801.2,702.4 800.9,705.0 800.6,707.5 800.3,710.1 800.2,712.6 800.1,715.1 800.0,717.6 800.0,720.0 800.0,722.4 800.0,724.7 800.1,727.0 800.2,729.3 800.4,731.5 800.7,733.8 801.1,736.0 801.6,738.2 802.2,740.3 803.0,742.5 803.9,744.6 805.0,746.7 806.2,748.8 807.4,750.9 808.8,752.9 810.4,754.9 812.0,756.9 813.7,759.0 815.6,761.0 817.5,763.0 819.7,765.0 822.1,767.0 824.7,769.1 827.4,771.1 830.2,773.1 833.0,775.1 835.8,777.1 838.4,779.1 840.8,781.0 843.0,783.0 845.0,784.9 846.8,786.8 848.5,788.6 850.1,790.4 851.6,792.2 853.0,794.1 854.3,796.0 855.6,797.9 856.8,799.9 858.0,802.0 859.1,804.2 860.0,806.5 860.9,808.9 861.7,811.4 862.4,813.9 863.1,816.4 863.8,818.9 864.5,821.3 865.2,823.7 866.0,826.0 866.8,828.2 867.6,830.5 868.5,832.6 869.3,834.8 870.1,836.9 870.9,839.0 871.7,841.1 872.5,843.1 873.3,845.1 874.0,847.0 874.7,848.9 875.4,850.9 876.1,852.9 876.8,854.9 877.5,856.8 878.1,858.6 878.7,860.3 879.2,861.8 879.7,863.0 880.0,864.0" fill="none" stroke="#626262" stroke-width="19.3" stroke-linecap="round" stroke-linejoin="round"/>
<path d="M885.0,668.5 884.1,668.0 883.0,667.4 881.7,666.7 880.2,665.9 878.6,665.1 876.9,664.2 875.2,663.3 873.4,662.5 871.7,661.7 870.0,661.0 868.3,660.4 866.6,659.7 864.8,659.1 863.0,658.4 861.2,657.8 859.3,657.3 857.5,656.8 855.6,656.4 853.8,656.2 852.0,656.0 850.2,655.9 848.4,655.9 846.6,656.0 844.8,656.1 843.1,656.4 841.3,656.7 839.5,657.1 837.7,657.6 835.8,658.3 834.0,659.0 832.1,659.8 830.2,660.8 828.2,661.9 826.1,663.0 824.1,664.2 822.1,665.6 820.2,667.1 818.4,668.6 816.6,670.2 815.0,672.0 813.5,673.9 812.0,675.9 810.6,678.1 809.3,680.4 808.0,682.8 806.8,685.2 805.7,687.6 804.7,690.1 803.8,692.6 803.0,695.0 802.3,697.4 801.7,699.9 801.2,702.4 800.9,705.0 800.6,707.5 800.3,710.1 800.2,712.6 800.1,715.1 800.0,717.6 800.0,720.0 800.0,722.4 800.0,724.7 800.1,727.0 800.2,729.3 800.4,731.5 800.7,733.8 801.1,736.0 801.6,738.2 802.2,740.3 803.0,742.5 803.9,744.6 805.0,746.7 806.2,748.8 807.4,750.9 808.8,752.9 810.4,754.9 812.0,756.9 813.7,759.0 815.6,761.0 817.5,763.0 819.7,765.0 822.1,767.0 824.7,769.1 827.4,771.1 830.2,773.1 833.0,775.1 835.8,777.1 838.4,779.1 840.8,781.0 843.0,783.0 845.0,784.9 846.8,786.8 848.5,788.6 850.1,790.4 851.6,792.2 853.0,794.1 854.3,796.0 855.6,797.9 856.8,799.9 858.0,802.0 859.1,804.2 860.0,806.5 860.9,808.9 861.7,811.4 862.4,813.9 863.1,816.4 863.8,818.9 864.5,821.3 865.2,823.7 866.0,826.0 866.8,828.2 867.6,830.5 868.5,832.6 869.3,834.8 870.1,836.9 870.9,839.0 871.7,841.1 872.5,843.1 873.3,845.1 874.0,847.0 874.7,848.9 875.4,850.9 876.1,852.9 876.8,854.9 877.5,856.8 878.1,858.6 878.7,860.3 879.2,861.8 879.7,863.0 880.0,864.0" fill="none" stroke="#cdcdcd" stroke-width="14.7" stroke-linecap="round" stroke-linejoin="round"/>
<path d="M882.5,673.3 881.6,672.8 880.4,672.2 879.1,671.5 877.7,670.7 876.1,669.8 874.5,669.0 872.8,668.1 871.2,667.4 869.6,666.7 868.0,666.0 866.4,665.4 864.7,664.8 863.0,664.2 861.3,663.6 859.6,663.0 857.9,662.5 856.3,662.1 854.7,661.8 853.2,661.5 851.7,661.4 850.1,661.3 848.5,661.3 847.0,661.4 845.4,661.5 843.9,661.7 842.4,662.0 840.8,662.3 839.3,662.8 837.7,663.3 836.1,664.0 834.4,664.7 832.6,665.6 830.7,666.6 828.9,667.6 827.1,668.8 825.3,670.0 823.6,671.3 822.0,672.6 820.5,674.1 819.1,675.5 817.8,677.2 816.5,679.0 815.2,680.9 814.0,683.0 812.8,685.2 811.7,687.5 810.7,689.8 809.7,692.1 808.9,694.4 808.2,696.6 807.5,698.8 807.0,701.0 806.6,703.3 806.2,705.7 805.9,708.1 805.7,710.5 805.6,712.9 805.5,715.3 805.4,717.7 805.4,720.0 805.4,722.3 805.4,724.6 805.5,726.8 805.6,728.9 805.8,731.0 806.0,733.0 806.4,734.9 806.8,736.8 807.3,738.6 808.0,740.5 808.8,742.3 809.8,744.2 810.8,746.1 812.0,747.9 813.2,749.8 814.6,751.6 816.1,753.5 817.8,755.4 819.5,757.3 821.3,759.2 823.2,761.0 825.5,762.8 827.9,764.8 830.6,766.7 833.4,768.7 836.2,770.7 839.0,772.7 841.7,774.8 844.3,776.9 846.7,779.1 848.8,781.1 850.7,783.1 852.5,785.0 854.2,786.9 855.8,788.9 857.3,790.9 858.8,792.9 860.2,795.0 861.5,797.2 862.8,799.5 864.0,802.0 865.1,804.6 866.0,807.2 866.9,809.8 867.6,812.4 868.3,814.9 869.0,817.4 869.7,819.8 870.4,822.1 871.1,824.2 871.9,826.4 872.7,828.6 873.5,830.7 874.3,832.9 875.2,835.0 876.0,837.1 876.8,839.1 877.6,841.2 878.3,843.2 879.1,845.1 879.8,847.1 880.5,849.1 881.2,851.1 881.9,853.1 882.6,855.0 883.2,856.8 883.8,858.5 884.3,860.0 884.8,861.2 885.1,862.2" fill="none" stroke="#a8a8a8" stroke-width="3.6" stroke-linecap="butt" stroke-linejoin="round"/>
<path d="M885.7,667.2 884.8,666.7 883.7,666.1 882.4,665.4 880.9,664.6 879.3,663.7 877.6,662.8 875.9,662.0 874.1,661.1 872.3,660.3 870.5,659.6 868.9,659.0 867.1,658.3 865.3,657.7 863.5,657.0 861.6,656.4 859.7,655.9 857.8,655.4 855.9,655.0 854.0,654.7 852.1,654.5 850.2,654.4 848.4,654.4 846.5,654.5 844.7,654.7 842.8,654.9 841.0,655.2 839.1,655.7 837.2,656.2 835.3,656.9 833.4,657.6 831.5,658.5 829.5,659.5 827.4,660.5 825.4,661.7 823.3,663.0 821.3,664.4 819.3,665.9 817.4,667.5 815.6,669.2 813.9,671.0 812.3,673.0 810.8,675.1 809.3,677.3 808.0,679.7 806.7,682.1 805.5,684.5 804.3,687.0 803.3,689.6 802.4,692.1 801.6,694.6 800.9,697.1 800.3,699.6 799.8,702.2 799.4,704.8 799.1,707.4 798.8,710.0 798.7,712.5 798.6,715.1 798.5,717.6 798.5,720.0 798.5,722.4 798.5,724.7 798.6,727.1 798.7,729.4 798.9,731.7 799.2,734.0 799.6,736.3 800.1,738.5 800.8,740.8 801.6,743.1 802.6,745.3 803.7,747.4 804.9,749.6 806.2,751.7 807.6,753.8 809.2,755.9 810.8,757.9 812.6,760.0 814.5,762.0 816.4,764.1 818.7,766.1 821.1,768.2 823.8,770.3 826.5,772.3 829.3,774.3 832.2,776.3 834.9,778.3 837.5,780.3 839.9,782.2 842.0,784.1 843.9,786.0 845.7,787.8 847.4,789.6 849.0,791.4 850.4,793.2 851.8,795.0 853.1,796.8 854.3,798.7 855.5,800.7 856.7,802.7 857.7,804.8 858.6,807.1 859.5,809.4 860.3,811.8 861.0,814.3 861.7,816.8 862.4,819.3 863.1,821.7 863.8,824.2 864.6,826.5 865.4,828.8 866.2,831.0 867.1,833.2 867.9,835.3 868.7,837.5 869.5,839.6 870.3,841.6 871.1,843.6 871.9,845.6 872.6,847.5 873.3,849.4 874.0,851.4 874.7,853.4 875.4,855.4 876.1,857.3 876.7,859.1 877.3,860.8 877.8,862.2 878.2,863.5 878.6,864.5" fill="none" stroke="#e2e2e2" stroke-width="6" stroke-linecap="butt" stroke-linejoin="round"/>
<path d="M886.0,666.5 885.2,666.1 884.1,665.5 882.8,664.8 881.3,664.0 879.7,663.1 877.9,662.2 876.2,661.3 874.4,660.5 872.6,659.7 870.8,659.0 869.1,658.3 867.4,657.6 865.6,657.0 863.7,656.4 861.8,655.7 859.9,655.2 858.0,654.7 856.0,654.3 854.1,654.0 852.1,653.8 850.2,653.7 848.4,653.7 846.5,653.8 844.6,654.0 842.7,654.2 840.8,654.5 838.9,655.0 837.0,655.5 835.1,656.2 833.1,657.0 831.2,657.9 829.2,658.8 827.1,659.9 825.0,661.1 822.9,662.4 820.9,663.8 818.8,665.3 816.9,667.0 815.1,668.7 813.3,670.6 811.7,672.6 810.2,674.7 808.7,676.9 807.3,679.3 806.0,681.7 804.8,684.2 803.7,686.8 802.7,689.3 801.7,691.8 800.9,694.4 800.2,696.9 799.6,699.5 799.1,702.1 798.7,704.7 798.4,707.3 798.1,709.9 798.0,712.5 797.9,715.1 797.8,717.6 797.8,720.0 797.8,722.4 797.8,724.7 797.9,727.1 798.0,729.4 798.2,731.8 798.5,734.1 798.9,736.4 799.4,738.7 800.1,741.0 801.0,743.3 801.9,745.6 803.0,747.8 804.3,749.9 805.6,752.1 807.1,754.2 808.6,756.3 810.3,758.4 812.1,760.4 813.9,762.5 816.0,764.6 818.2,766.7 820.7,768.8 823.3,770.8 826.1,772.9 828.9,774.9 831.7,776.9 834.5,778.9 837.0,780.8 839.4,782.7 841.5,784.6 843.4,786.5 845.2,788.3 846.9,790.1 848.4,791.9 849.9,793.6 851.2,795.4 852.5,797.2 853.8,799.1 854.9,801.0 856.1,803.0 857.1,805.1 858.0,807.3 858.8,809.6 859.6,812.0 860.3,814.5 861.0,817.0 861.7,819.5 862.4,821.9 863.1,824.4 863.9,826.7 864.7,829.0 865.6,831.2 866.4,833.4 867.2,835.6 868.1,837.7 868.9,839.8 869.7,841.9 870.5,843.9 871.2,845.9 871.9,847.8 872.6,849.7 873.4,851.7 874.1,853.7 874.8,855.6 875.4,857.5 876.1,859.3 876.6,861.0 877.1,862.5 877.6,863.7 877.9,864.7" fill="none" stroke="#f3f3f3" stroke-width="3.2" stroke-linecap="butt" stroke-linejoin="round"/></g>
<path d="M803.0,742.5 803.8,743.7 804.8,745.3 805.9,747.2 807.2,749.2 808.7,751.5 810.2,753.9 811.9,756.2 813.7,758.6 815.5,760.9 817.5,763.0 819.7,765.0 822.1,767.0 824.7,769.1 827.4,771.1 830.2,773.1 833.0,775.1 835.8,777.1 838.4,779.1 840.8,781.0 843.0,783.0 845.0,784.9 846.8,786.8 848.5,788.6 850.1,790.4 851.6,792.2 853.0,794.1 854.3,796.0 855.6,797.9 856.8,799.9 858.0,802.0 859.1,804.2 860.0,806.5 860.9,808.9 861.7,811.4 862.4,813.9 863.1,816.4 863.8,818.9 864.5,821.3 865.2,823.7 866.0,826.0 866.8,828.2 867.6,830.5 868.5,832.6 869.3,834.8 870.1,836.9 870.9,839.0 871.7,841.1 872.5,843.1 873.3,845.1 874.0,847.0 874.7,848.9 875.4,850.9 876.1,852.9 876.8,854.9 877.5,856.8 878.1,858.6 878.7,860.3 879.2,861.8 879.7,863.0 880.0,864.0" fill="none" stroke="url(#gLow)" stroke-width="16" stroke-linecap="butt"/>
<path d="M885.0,668.5 884.1,668.0 883.0,667.4 881.7,666.7 880.2,665.9 878.6,665.1 876.9,664.2 875.2,663.3 873.4,662.5 871.7,661.7 870.0,661.0 868.2,660.4 866.3,659.8 864.3,659.2 862.2,658.6 860.1,658.0 858.0,657.5 856.2,657.1 854.5,656.6 853.1,656.3 852.0,656.0" fill="none" stroke="url(#gTip)" stroke-width="19" stroke-linecap="round"/>
<path d="M203,454.5 L228,456.5 Q236,459 236.5,466 L236.5,477 Q236,483 229,483.5 L203,483.5 Q187,482 187,469 Q187,456 203,454.5Z" fill="#cfcfcf" stroke="#5e5e5e" stroke-width="1.8"/>
<path d="M205,458.5 L226,460 L226,479.5 L205,479.5 Q193,478 193,469 Q193,460 205,458.5Z" fill="#ededed" stroke="none"/>
<ellipse cx="202.5" cy="468" rx="3.2" ry="4.6" fill="#e6e6e6" stroke="#8e8e8e" stroke-width="1.3"/>
<g transform="translate(882.5,872) rotate(-38)"><ellipse cx="0" cy="0" rx="15" ry="8" fill="#8d8d8d" stroke="#707070" stroke-width="1.2"/><ellipse cx="-1.5" cy="3" rx="11.5" ry="4.6" fill="#ececec" stroke="#808080" stroke-width="1"/></g>
<path d="M339.4,82 L348.4,82 L325.7,349 L316.7,349Z" fill="#f0f0f0" stroke="#6c6c6c" stroke-width="1.7"/>
<path d="M343.8,84 L321.3,347" stroke="#fcfcfc" stroke-width="3" fill="none"/>
<path d="M313,64.2 L327,66" stroke="#575757" stroke-width="8.8" stroke-linecap="butt"/>
<path d="M313,64.2 L327,66" stroke="#7d7d7d" stroke-width="4.6" stroke-linecap="butt"/>
<path d="M307,63.5 L313,64.2" stroke="#8a8a8a" stroke-width="7.4" stroke-linecap="butt"/>
<path d="M307,63.5 L313,64.2" stroke="#c9c9c9" stroke-width="4.4" stroke-linecap="butt"/>
<ellipse cx="333.0" cy="67.0" rx="7.6" ry="17.5" fill="#dadada" stroke="#5e5e5e" stroke-width="1.6"/>
<ellipse cx="338.3" cy="67.0" rx="8.5" ry="15.3" fill="#555"/>
<ellipse cx="342.0" cy="67.3" rx="9.5" ry="14.5" fill="#b4b4b4" stroke="#5e5e5e" stroke-width="1.3"/>
<ellipse cx="347.7" cy="67.5" rx="10" ry="14.3" fill="#aeaeae" stroke="#5c5c5c" stroke-width="1.5"/>
<ellipse cx="348.5" cy="67.5" rx="6.4" ry="9.5" fill="#c4c4c4"/>
<ellipse cx="349.5" cy="68.0" rx="3" ry="4.2" fill="#ffffff" stroke="#8a8a8a" stroke-width="1"/>
<path d="M297,358 L304,360" stroke="#777" stroke-width="7" stroke-linecap="round"/>
<ellipse cx="308.0" cy="362.0" rx="7.6" ry="18.0" fill="#dadada" stroke="#5e5e5e" stroke-width="1.6"/>
<ellipse cx="313.3" cy="362.0" rx="8.5" ry="15.8" fill="#555"/>
<ellipse cx="317.0" cy="362.3" rx="9.5" ry="15.0" fill="#b4b4b4" stroke="#5e5e5e" stroke-width="1.3"/>
<ellipse cx="322.7" cy="362.5" rx="10" ry="14.8" fill="#aeaeae" stroke="#5c5c5c" stroke-width="1.5"/>
<ellipse cx="323.5" cy="362.5" rx="6.4" ry="10.0" fill="#c4c4c4"/>
<ellipse cx="324.5" cy="363.0" rx="3" ry="4.2" fill="#ffffff" stroke="#8a8a8a" stroke-width="1"/>
<path d="M710.7,232 L720.3,232 L696.9,446 L687.3,446Z" fill="#b2b2b2" stroke="#686868" stroke-width="1.6"/>
<path d="M714.6,236 L692.2,442" stroke="#bfbfbf" stroke-width="3" fill="none"/>
<ellipse cx="714" cy="214" rx="8.3" ry="13" fill="#a6a6a6" stroke="#5e5e5e" stroke-width="1.5" transform="rotate(38 714 214)"/>
<ellipse cx="718.5" cy="217.2" rx="9" ry="14.5" fill="#4f4f4f" transform="rotate(38 718.5 217.2)"/>
<ellipse cx="724" cy="221.5" rx="11.5" ry="16.3" fill="#c6c6c6" stroke="#636363" stroke-width="1.5" transform="rotate(38 724 221.5)"/>
<ellipse cx="719.5" cy="218.0" rx="4" ry="10" fill="#e6e6e6" transform="rotate(38 719.5 218.0)"/>
<ellipse cx="728" cy="226.0" rx="6" ry="8.5" fill="#8d8d8d" stroke="#5a5a5a" stroke-width="1.2" transform="rotate(38 728 226.0)"/>
<path d="M728.5,227.0 L743,238.5" stroke="#585858" stroke-width="8.6" stroke-linecap="butt"/>
<path d="M728.5,227.0 L743,238.5" stroke="#8c8c8c" stroke-width="4.6" stroke-linecap="butt"/>
<path d="M743,238.5 L746.5,241.3" stroke="#7a7a7a" stroke-width="5.4" stroke-linecap="round"/>
<ellipse cx="729.5" cy="227.3" rx="5" ry="7" fill="#b5b5b5" transform="rotate(38 729.5 227.3)"/>
<ellipse cx="685" cy="450" rx="8.3" ry="13" fill="#a6a6a6" stroke="#5e5e5e" stroke-width="1.5" transform="rotate(38 685 450)"/>
<ellipse cx="689.5" cy="453.2" rx="9" ry="14.5" fill="#4f4f4f" transform="rotate(38 689.5 453.2)"/>
<ellipse cx="695" cy="457.5" rx="11.5" ry="16.3" fill="#c6c6c6" stroke="#636363" stroke-width="1.5" transform="rotate(38 695 457.5)"/>
<ellipse cx="690.5" cy="454.0" rx="4" ry="10" fill="#e6e6e6" transform="rotate(38 690.5 454.0)"/>
<ellipse cx="699" cy="462.0" rx="6" ry="8.5" fill="#8d8d8d" stroke="#5a5a5a" stroke-width="1.2" transform="rotate(38 699 462.0)"/>
<path d="M699.5,463.0 L714,474.5" stroke="#585858" stroke-width="8.6" stroke-linecap="butt"/>
<path d="M699.5,463.0 L714,474.5" stroke="#8c8c8c" stroke-width="4.6" stroke-linecap="butt"/>
<path d="M714,474.5 L717.5,477.3" stroke="#7a7a7a" stroke-width="5.4" stroke-linecap="round"/>
<ellipse cx="700.5" cy="463.3" rx="5" ry="7" fill="#b5b5b5" transform="rotate(38 700.5 463.3)"/>
<g transform="translate(0,0)" stroke-linejoin="round">
<path d="M511.0,285.0 512.0,284.3 513.2,283.8 514.6,283.6 516.1,283.5 517.6,283.4 519.0,283.3 520.3,283.2 521.7,283.0 523.1,282.9 524.4,282.9 525.7,283.0 527.0,283.3 528.3,283.7 529.6,284.3 531.0,285.1 532.2,285.8 533.2,286.7 534.0,287.5 534.5,288.3 534.9,289.2 535.0,290.2 535.0,291.1 534.8,292.1 534.5,293.0 534.0,293.9 533.3,294.8 532.5,295.6 531.5,296.5 530.3,297.5 529.0,298.5 527.4,299.8 525.6,301.2 523.6,302.8 521.5,304.2 519.6,305.3 518.0,306.0 516.6,306.2 515.4,306.0 514.2,305.5 513.2,304.8 512.3,304.0 511.5,303.0 510.8,301.8 510.2,300.4 509.7,298.9 509.4,297.2 509.1,295.6 509.0,294.0 509.0,292.4 509.1,290.7 509.3,289.0 509.7,287.5 510.3,286.1 511.0,285.0Z" fill="#a9a9a9" stroke="#5c5c5c" stroke-width="1.7"/>
<ellipse cx="521.8" cy="292" rx="5.6" ry="3" fill="#ffffff" stroke="#6a6a6a" stroke-width="1" transform="rotate(-18 521.8 292)"/>
<path d="M491.0,319.0 490.6,317.4 490.4,315.0 490.2,312.2 490.2,309.3 490.3,306.5 490.5,304.0 490.8,301.9 491.2,299.9 491.8,297.9 492.4,296.1 493.2,294.5 494.0,293.0 495.0,291.7 496.1,290.5 497.3,289.5 498.5,288.6 499.8,287.7 501.0,287.0 502.2,286.3 503.4,285.6 504.6,285.1 505.7,284.7 506.9,284.5 508.0,284.5 509.1,284.7 510.3,285.1 511.5,285.7 512.5,286.5 513.4,287.6 514.0,289.0 514.3,291.0 514.5,293.7 514.4,296.7 514.2,299.5 513.9,301.8 513.5,303.0 513.0,303.0 512.4,302.0 511.6,300.5 510.8,298.7 509.9,297.1 509.0,296.0 508.1,295.3 507.1,294.7 506.0,294.2 505.0,294.0 504.0,293.9 503.0,294.0 502.1,294.4 501.1,295.0 500.2,295.8 499.4,296.7 498.6,297.8 498.0,299.0 497.5,300.4 497.1,302.0 496.7,303.8 496.4,305.6 496.2,307.3 496.0,309.0 495.9,310.7 495.9,312.4 495.9,314.1 495.9,315.6 495.8,317.0 495.5,318.0 494.9,318.8 494.1,319.5 493.2,320.0 492.4,320.1 491.6,319.9 491.0,319.0Z" fill="#858585" stroke="#666" stroke-width="1.2"/>
<path d="M460.0,315.0 459.7,313.7 459.8,312.1 460.1,310.4 460.6,308.4 461.1,306.3 461.5,304.0 461.8,301.3 462.1,298.3 462.4,295.1 462.8,291.9 463.3,288.8 464.0,286.0 464.9,283.5 465.9,281.0 467.0,278.7 468.2,276.6 469.5,274.7 471.0,273.0 472.6,271.6 474.3,270.3 476.2,269.2 478.1,268.4 480.1,267.8 482.0,267.5 484.0,267.5 486.0,267.7 488.1,268.2 490.1,268.9 492.1,269.7 494.0,270.5 495.8,271.4 497.4,272.5 499.0,273.8 500.6,275.0 502.1,276.3 503.5,277.5 505.0,278.8 506.7,280.1 508.3,281.5 509.6,282.8 510.6,283.8 511.0,284.5 510.7,284.7 509.8,284.5 508.5,284.0 506.9,283.5 505.4,283.1 504.0,283.0 502.7,283.2 501.4,283.5 500.0,284.0 498.6,284.5 497.3,285.2 496.0,286.0 494.7,286.9 493.5,287.9 492.2,289.0 491.0,290.2 490.0,291.6 489.0,293.0 488.2,294.5 487.4,296.1 486.8,297.9 486.3,299.7 485.8,301.8 485.5,304.0 485.4,306.6 485.5,309.7 485.8,313.0 485.9,316.1 485.9,318.9 485.5,321.0 484.7,322.4 483.6,323.3 482.4,323.9 481.0,324.1 479.5,324.1 478.0,324.0 476.5,323.6 474.8,322.9 473.0,321.9 471.3,320.9 469.6,319.9 468.0,319.0 466.4,318.4 464.8,317.9 463.3,317.4 461.9,316.8 460.8,316.1 460.0,315.0Z" fill="url(#gClamp)" stroke="#5e5e5e" stroke-width="1.7"/>
<path d="M488.6,321.8 488.5,319.8 488.3,316.9 488.1,313.5 487.9,310.0 487.9,306.7 488.0,304.0 488.3,301.8 488.8,299.9 489.3,298.3 490.0,296.7 490.7,295.3 491.5,294.0 492.4,292.7 493.4,291.6 494.5,290.6 495.7,289.6 496.9,288.8 498.0,288.0 499.1,287.3 500.3,286.6 501.5,286.1 502.7,285.6 503.9,285.3 505.0,285.0 506.2,284.9 507.4,284.9 508.7,285.1 509.8,285.2 510.8,285.4 511.5,285.5" fill="none" stroke="#6a6a6a" stroke-width="6.2" stroke-linecap="butt"/>
<path d="M488.6,321.0 488.5,319.1 488.3,316.3 488.1,313.1 487.9,309.8 487.9,306.6 488.0,304.0 488.3,301.9 488.8,300.0 489.3,298.3 490.0,296.8 490.7,295.4 491.5,294.0 492.4,292.7 493.4,291.6 494.5,290.6 495.7,289.6 496.9,288.8 498.0,288.0 499.2,287.3 500.4,286.6 501.6,286.1 502.8,285.6 503.9,285.3 505.0,285.0 506.1,284.9 507.1,284.9 508.2,285.1 509.1,285.2 509.9,285.4 510.5,285.5" fill="none" stroke="#fbfbfb" stroke-width="3.8" stroke-linecap="butt"/>
<path d="M489,270.5 Q497,273 504,279.5" stroke="#5a5a5a" stroke-width="2.6" fill="none" stroke-linecap="round"/>
<path d="M458.0,316.0 462.5,311.5 480.0,321.0 476.5,327.0Z" fill="#cfcfcf" stroke="#666" stroke-width="1.4"/>
<path d="M465,303 l0,5 M478,313 l0,4" stroke="#eee" stroke-width="2" stroke-linecap="round" fill="none"/>
</g>
<g transform="translate(367.5,220)" stroke-linejoin="round">
<path d="M511.0,285.0 512.0,284.3 513.2,283.8 514.6,283.6 516.1,283.5 517.6,283.4 519.0,283.3 520.3,283.2 521.7,283.0 523.1,282.9 524.4,282.9 525.7,283.0 527.0,283.3 528.3,283.7 529.6,284.3 531.0,285.1 532.2,285.8 533.2,286.7 534.0,287.5 534.5,288.3 534.9,289.2 535.0,290.2 535.0,291.1 534.8,292.1 534.5,293.0 534.0,293.9 533.3,294.8 532.5,295.6 531.5,296.5 530.3,297.5 529.0,298.5 527.4,299.8 525.6,301.2 523.6,302.8 521.5,304.2 519.6,305.3 518.0,306.0 516.6,306.2 515.4,306.0 514.2,305.5 513.2,304.8 512.3,304.0 511.5,303.0 510.8,301.8 510.2,300.4 509.7,298.9 509.4,297.2 509.1,295.6 509.0,294.0 509.0,292.4 509.1,290.7 509.3,289.0 509.7,287.5 510.3,286.1 511.0,285.0Z" fill="#a9a9a9" stroke="#5c5c5c" stroke-width="1.7"/>
<ellipse cx="521.8" cy="292" rx="5.6" ry="3" fill="#ffffff" stroke="#6a6a6a" stroke-width="1" transform="rotate(-18 521.8 292)"/>
<path d="M491.0,319.0 490.6,317.4 490.4,315.0 490.2,312.2 490.2,309.3 490.3,306.5 490.5,304.0 490.8,301.9 491.2,299.9 491.8,297.9 492.4,296.1 493.2,294.5 494.0,293.0 495.0,291.7 496.1,290.5 497.3,289.5 498.5,288.6 499.8,287.7 501.0,287.0 502.2,286.3 503.4,285.6 504.6,285.1 505.7,284.7 506.9,284.5 508.0,284.5 509.1,284.7 510.3,285.1 511.5,285.7 512.5,286.5 513.4,287.6 514.0,289.0 514.3,291.0 514.5,293.7 514.4,296.7 514.2,299.5 513.9,301.8 513.5,303.0 513.0,303.0 512.4,302.0 511.6,300.5 510.8,298.7 509.9,297.1 509.0,296.0 508.1,295.3 507.1,294.7 506.0,294.2 505.0,294.0 504.0,293.9 503.0,294.0 502.1,294.4 501.1,295.0 500.2,295.8 499.4,296.7 498.6,297.8 498.0,299.0 497.5,300.4 497.1,302.0 496.7,303.8 496.4,305.6 496.2,307.3 496.0,309.0 495.9,310.7 495.9,312.4 495.9,314.1 495.9,315.6 495.8,317.0 495.5,318.0 494.9,318.8 494.1,319.5 493.2,320.0 492.4,320.1 491.6,319.9 491.0,319.0Z" fill="#858585" stroke="#666" stroke-width="1.2"/>
<path d="M460.0,315.0 459.7,313.7 459.8,312.1 460.1,310.4 460.6,308.4 461.1,306.3 461.5,304.0 461.8,301.3 462.1,298.3 462.4,295.1 462.8,291.9 463.3,288.8 464.0,286.0 464.9,283.5 465.9,281.0 467.0,278.7 468.2,276.6 469.5,274.7 471.0,273.0 472.6,271.6 474.3,270.3 476.2,269.2 478.1,268.4 480.1,267.8 482.0,267.5 484.0,267.5 486.0,267.7 488.1,268.2 490.1,268.9 492.1,269.7 494.0,270.5 495.8,271.4 497.4,272.5 499.0,273.8 500.6,275.0 502.1,276.3 503.5,277.5 505.0,278.8 506.7,280.1 508.3,281.5 509.6,282.8 510.6,283.8 511.0,284.5 510.7,284.7 509.8,284.5 508.5,284.0 506.9,283.5 505.4,283.1 504.0,283.0 502.7,283.2 501.4,283.5 500.0,284.0 498.6,284.5 497.3,285.2 496.0,286.0 494.7,286.9 493.5,287.9 492.2,289.0 491.0,290.2 490.0,291.6 489.0,293.0 488.2,294.5 487.4,296.1 486.8,297.9 486.3,299.7 485.8,301.8 485.5,304.0 485.4,306.6 485.5,309.7 485.8,313.0 485.9,316.1 485.9,318.9 485.5,321.0 484.7,322.4 483.6,323.3 482.4,323.9 481.0,324.1 479.5,324.1 478.0,324.0 476.5,323.6 474.8,322.9 473.0,321.9 471.3,320.9 469.6,319.9 468.0,319.0 466.4,318.4 464.8,317.9 463.3,317.4 461.9,316.8 460.8,316.1 460.0,315.0Z" fill="url(#gClamp)" stroke="#5e5e5e" stroke-width="1.7"/>
<path d="M488.6,321.8 488.5,319.8 488.3,316.9 488.1,313.5 487.9,310.0 487.9,306.7 488.0,304.0 488.3,301.8 488.8,299.9 489.3,298.3 490.0,296.7 490.7,295.3 491.5,294.0 492.4,292.7 493.4,291.6 494.5,290.6 495.7,289.6 496.9,288.8 498.0,288.0 499.1,287.3 500.3,286.6 501.5,286.1 502.7,285.6 503.9,285.3 505.0,285.0 506.2,284.9 507.4,284.9 508.7,285.1 509.8,285.2 510.8,285.4 511.5,285.5" fill="none" stroke="#6a6a6a" stroke-width="6.2" stroke-linecap="butt"/>
<path d="M488.6,321.0 488.5,319.1 488.3,316.3 488.1,313.1 487.9,309.8 487.9,306.6 488.0,304.0 488.3,301.9 488.8,300.0 489.3,298.3 490.0,296.8 490.7,295.4 491.5,294.0 492.4,292.7 493.4,291.6 494.5,290.6 495.7,289.6 496.9,288.8 498.0,288.0 499.2,287.3 500.4,286.6 501.6,286.1 502.8,285.6 503.9,285.3 505.0,285.0 506.1,284.9 507.1,284.9 508.2,285.1 509.1,285.2 509.9,285.4 510.5,285.5" fill="none" stroke="#fbfbfb" stroke-width="3.8" stroke-linecap="butt"/>
<path d="M489,270.5 Q497,273 504,279.5" stroke="#5a5a5a" stroke-width="2.6" fill="none" stroke-linecap="round"/>
<path d="M458.0,316.0 462.5,311.5 480.0,321.0 476.5,327.0Z" fill="#cfcfcf" stroke="#666" stroke-width="1.4"/>
<path d="M465,303 l0,5 M478,313 l0,4" stroke="#eee" stroke-width="2" stroke-linecap="round" fill="none"/>
</g>
<g transform="translate(0,0)" stroke-linejoin="round">
<path d="M464.0,353.0 464.4,351.5 465.0,350.0 465.5,348.5 466.2,347.2 467.0,346.0 467.9,345.0 469.0,344.2 470.2,343.4 471.4,342.7 472.5,342.0 473.6,341.2 474.7,340.5 475.8,339.7 476.9,339.1 478.0,338.5 479.1,338.0 480.2,337.5 481.3,337.1 482.5,336.9 484.0,337.0 485.7,337.4 487.6,338.1 489.7,338.9 491.8,339.9 494.0,341.0 496.4,342.2 499.0,343.6 501.6,345.1 504.0,346.6 506.0,348.0 507.6,349.2 508.8,350.4 509.9,351.5 510.7,352.7 511.5,354.0 512.2,355.4 512.6,356.8 513.0,358.3 513.3,360.0 513.5,362.0 513.7,364.4 513.8,367.2 513.8,370.1 513.7,372.8 513.5,375.0 513.2,376.5 512.8,377.7 512.3,378.5 511.7,379.3 511.0,380.0 510.2,380.7 509.4,381.2 508.5,381.8 507.4,382.3 506.0,383.0 504.3,383.9 502.3,384.9 500.1,386.0 498.0,387.1 496.0,388.0 494.3,389.0 492.7,390.0 491.2,390.9 489.5,391.5 487.5,391.5 485.0,390.7 482.2,389.4 479.3,387.7 476.5,386.0 474.0,384.5 471.8,383.3 469.7,382.3 467.9,381.3 466.3,380.2 465.0,379.0 464.1,377.6 463.5,376.1 463.2,374.5 463.0,372.8 462.8,371.0 462.6,369.1 462.6,367.0 462.6,365.0 462.7,362.9 462.8,361.0 462.9,359.3 463.1,357.6 463.3,356.0 463.6,354.5 464.0,353.0Z" fill="#686868" stroke="#4f4f4f" stroke-width="1.4"/>
<path d="M474.0,343.0 474.3,341.6 476.1,340.5 478.8,339.7 481.6,339.2 484.0,339.0 486.0,339.3 488.0,340.0 490.1,340.9 492.1,342.0 494.0,343.0 496.1,344.0 498.4,345.2 500.6,346.4 502.2,347.5 503.0,348.5 502.6,349.4 501.3,350.1 499.5,350.8 497.6,351.4 496.0,352.0 494.9,352.7 494.0,353.5 493.1,354.2 491.8,354.5 490.0,354.0 487.0,352.5 483.1,350.2 479.0,347.5 475.7,345.0 474.0,343.0Z" fill="#7d7d7d"/>
<path d="M466.0,356.0 466.6,353.2 467.4,350.5 468.4,348.2 469.9,346.6 472.0,346.0 475.2,346.6 479.3,348.3 483.7,350.6 487.5,353.3 490.0,356.0 490.9,358.9 490.6,362.2 489.8,365.6 488.7,369.0 488.0,372.0 487.8,374.9 487.7,377.9 487.5,380.5 487.0,382.7 486.0,384.0 484.2,384.3 481.7,383.6 479.0,382.5 476.3,381.2 474.0,380.0 472.0,379.1 470.1,378.3 468.4,377.4 467.0,376.0 466.0,374.0 465.4,371.0 465.1,367.3 465.2,363.2 465.5,359.3 466.0,356.0Z" fill="#747474"/>
<path d="M493.0,357.0 494.8,355.0 497.0,353.4 499.5,352.1 501.9,351.3 504.0,351.0 505.8,351.2 507.4,351.9 508.8,353.1 510.0,354.8 511.0,357.0 511.7,360.2 512.2,364.3 512.5,368.7 512.4,372.8 512.0,376.0 511.2,378.0 510.1,379.4 508.6,380.3 506.9,381.1 505.0,382.0 502.6,383.4 499.7,385.0 496.7,386.5 494.0,387.3 492.0,387.0 490.8,385.3 490.2,382.4 489.9,379.0 489.9,375.3 490.0,372.0 490.2,368.9 490.5,365.6 491.0,362.4 491.8,359.4 493.0,357.0Z" fill="#646464"/>
<path d="M472.5,344 L492,355.5 L508,378" stroke="#3f3f3f" stroke-width="1.8" fill="none"/>
<path d="M464,368 Q470,372 468,380" stroke="#4a4a4a" stroke-width="1.5" fill="none"/>
<path d="M493,356 l4,-3 M486,368 l1,-8 M496,366 l6,5 M495,373 l4,2" stroke="#a2a2a2" stroke-width="1.8" fill="none" stroke-linecap="round"/>
<path d="M476,378 l14,7" stroke="#505050" stroke-width="1.5" fill="none"/>
</g>
<g transform="translate(368,221.5)" stroke-linejoin="round">
<path d="M464.0,353.0 464.4,351.5 465.0,350.0 465.5,348.5 466.2,347.2 467.0,346.0 467.9,345.0 469.0,344.2 470.2,343.4 471.4,342.7 472.5,342.0 473.6,341.2 474.7,340.5 475.8,339.7 476.9,339.1 478.0,338.5 479.1,338.0 480.2,337.5 481.3,337.1 482.5,336.9 484.0,337.0 485.7,337.4 487.6,338.1 489.7,338.9 491.8,339.9 494.0,341.0 496.4,342.2 499.0,343.6 501.6,345.1 504.0,346.6 506.0,348.0 507.6,349.2 508.8,350.4 509.9,351.5 510.7,352.7 511.5,354.0 512.2,355.4 512.6,356.8 513.0,358.3 513.3,360.0 513.5,362.0 513.7,364.4 513.8,367.2 513.8,370.1 513.7,372.8 513.5,375.0 513.2,376.5 512.8,377.7 512.3,378.5 511.7,379.3 511.0,380.0 510.2,380.7 509.4,381.2 508.5,381.8 507.4,382.3 506.0,383.0 504.3,383.9 502.3,384.9 500.1,386.0 498.0,387.1 496.0,388.0 494.3,389.0 492.7,390.0 491.2,390.9 489.5,391.5 487.5,391.5 485.0,390.7 482.2,389.4 479.3,387.7 476.5,386.0 474.0,384.5 471.8,383.3 469.7,382.3 467.9,381.3 466.3,380.2 465.0,379.0 464.1,377.6 463.5,376.1 463.2,374.5 463.0,372.8 462.8,371.0 462.6,369.1 462.6,367.0 462.6,365.0 462.7,362.9 462.8,361.0 462.9,359.3 463.1,357.6 463.3,356.0 463.6,354.5 464.0,353.0Z" fill="#686868" stroke="#4f4f4f" stroke-width="1.4"/>
<path d="M474.0,343.0 474.3,341.6 476.1,340.5 478.8,339.7 481.6,339.2 484.0,339.0 486.0,339.3 488.0,340.0 490.1,340.9 492.1,342.0 494.0,343.0 496.1,344.0 498.4,345.2 500.6,346.4 502.2,347.5 503.0,348.5 502.6,349.4 501.3,350.1 499.5,350.8 497.6,351.4 496.0,352.0 494.9,352.7 494.0,353.5 493.1,354.2 491.8,354.5 490.0,354.0 487.0,352.5 483.1,350.2 479.0,347.5 475.7,345.0 474.0,343.0Z" fill="#7d7d7d"/>
<path d="M466.0,356.0 466.6,353.2 467.4,350.5 468.4,348.2 469.9,346.6 472.0,346.0 475.2,346.6 479.3,348.3 483.7,350.6 487.5,353.3 490.0,356.0 490.9,358.9 490.6,362.2 489.8,365.6 488.7,369.0 488.0,372.0 487.8,374.9 487.7,377.9 487.5,380.5 487.0,382.7 486.0,384.0 484.2,384.3 481.7,383.6 479.0,382.5 476.3,381.2 474.0,380.0 472.0,379.1 470.1,378.3 468.4,377.4 467.0,376.0 466.0,374.0 465.4,371.0 465.1,367.3 465.2,363.2 465.5,359.3 466.0,356.0Z" fill="#747474"/>
<path d="M493.0,357.0 494.8,355.0 497.0,353.4 499.5,352.1 501.9,351.3 504.0,351.0 505.8,351.2 507.4,351.9 508.8,353.1 510.0,354.8 511.0,357.0 511.7,360.2 512.2,364.3 512.5,368.7 512.4,372.8 512.0,376.0 511.2,378.0 510.1,379.4 508.6,380.3 506.9,381.1 505.0,382.0 502.6,383.4 499.7,385.0 496.7,386.5 494.0,387.3 492.0,387.0 490.8,385.3 490.2,382.4 489.9,379.0 489.9,375.3 490.0,372.0 490.2,368.9 490.5,365.6 491.0,362.4 491.8,359.4 493.0,357.0Z" fill="#646464"/>
<path d="M472.5,344 L492,355.5 L508,378" stroke="#3f3f3f" stroke-width="1.8" fill="none"/>
<path d="M464,368 Q470,372 468,380" stroke="#4a4a4a" stroke-width="1.5" fill="none"/>
<path d="M493,356 l4,-3 M486,368 l1,-8 M496,366 l6,5 M495,373 l4,2" stroke="#a2a2a2" stroke-width="1.8" fill="none" stroke-linecap="round"/>
<path d="M476,378 l14,7" stroke="#505050" stroke-width="1.5" fill="none"/>
</g>
<g transform="translate(0,0)">
<path d="M513.5,226 L524.5,226 L524.5,249 L522.5,256 L516.5,256 L514,249Z" fill="url(#gBolt)" stroke="#4c4c4c" stroke-width="1.4"/>
<path d="M514,232h10M514,236h10M514,240h10M514,244h10M514,248h10" stroke="#6d6d6d" stroke-width="1.1"/>
<ellipse cx="519" cy="223.5" rx="11.5" ry="4.8" fill="#7c7c7c" stroke="#4c4c4c" stroke-width="1.4"/>
<path d="M510,214 Q510,209 519,209 Q528,209 528,214 L529,221.5 Q519,226 509,221.5Z" fill="#777" stroke="#4a4a4a" stroke-width="1.4"/>
<ellipse cx="519" cy="214" rx="7.5" ry="3.6" fill="#949494"/>
<path d="M514,218 l0,4 M521,219 l0,4" stroke="#b5b5b5" stroke-width="1.5"/>
</g>
<g transform="translate(368.5,208)">
<path d="M513.5,226 L524.5,226 L524.5,249 L522.5,256 L516.5,256 L514,249Z" fill="url(#gBolt)" stroke="#4c4c4c" stroke-width="1.4"/>
<path d="M514,232h10M514,236h10M514,240h10M514,244h10M514,248h10" stroke="#6d6d6d" stroke-width="1.1"/>
<ellipse cx="519" cy="223.5" rx="11.5" ry="4.8" fill="#7c7c7c" stroke="#4c4c4c" stroke-width="1.4"/>
<path d="M510,214 Q510,209 519,209 Q528,209 528,214 L529,221.5 Q519,226 509,221.5Z" fill="#777" stroke="#4a4a4a" stroke-width="1.4"/>
<ellipse cx="519" cy="214" rx="7.5" ry="3.6" fill="#949494"/>
<path d="M514,218 l0,4 M521,219 l0,4" stroke="#b5b5b5" stroke-width="1.5"/>
</g>
<g transform="translate(233.5,53.5) rotate(0)">
<ellipse cx="0" cy="0" rx="10" ry="11.4" fill="#787878" stroke="#505050" stroke-width="1.5"/>
<ellipse cx="1.8" cy="0.3" rx="6.6" ry="8" fill="#a8a8a8"/>
<ellipse cx="2.4" cy="0.5" rx="3.2" ry="4.2" fill="#6c6c6c"/>
</g>
<g transform="translate(149.8,457.8) rotate(0)">
<ellipse cx="0" cy="0" rx="10" ry="11.4" fill="#8a8a8a" stroke="#505050" stroke-width="1.5"/>
<ellipse cx="1.8" cy="0.3" rx="6.6" ry="8" fill="#dedede"/>
<ellipse cx="2.4" cy="0.5" rx="3.2" ry="4.2" fill="#6a6a6a"/>
</g>
<g transform="translate(809.2,297.5) rotate(25)">
<ellipse cx="0" cy="0" rx="10" ry="11.4" fill="#7c7c7c" stroke="#505050" stroke-width="1.5"/>
<ellipse cx="1.8" cy="0.3" rx="6.6" ry="8" fill="#b9b9b9"/>
<ellipse cx="2.4" cy="0.5" rx="3.2" ry="4.2" fill="#8a8a8a"/>
</g>
<g transform="translate(926,912) rotate(-38)"><rect x="-9.5" y="-8" width="19" height="16" rx="4" fill="#7a7a7a" stroke="#505050" stroke-width="1.4"/><rect x="-5" y="-1.5" width="10" height="7" rx="3" fill="#f4f4f4" stroke="#606060" stroke-width="1"/></g>
<g transform="translate(523,596)">
<ellipse cx="0" cy="-1" rx="11.5" ry="7" fill="#979797" stroke="#666" stroke-width="1.2"/>
<path d="M-8.5,0 L-6,8 Q0,12 7,8 L9,0 Q0,5 -8.5,0Z" fill="#7b7b7b" stroke="#626262" stroke-width="1.1"/>
<ellipse cx="0" cy="-3" rx="6" ry="3.5" fill="#777" stroke="#5b5b5b" stroke-width="1"/>
<rect x="-2" y="-9" width="4.5" height="6" fill="#757575"/>
</g>
<g transform="translate(892.7,815.5)">
<ellipse cx="0" cy="-1" rx="11.5" ry="7" fill="#979797" stroke="#666" stroke-width="1.2"/>
<path d="M-8.5,0 L-6,8 Q0,12 7,8 L9,0 Q0,5 -8.5,0Z" fill="#7b7b7b" stroke="#626262" stroke-width="1.1"/>
<ellipse cx="0" cy="-3" rx="6" ry="3.5" fill="#777" stroke="#5b5b5b" stroke-width="1"/>
<rect x="-2" y="-9" width="4.5" height="6" fill="#757575"/>
</g>
<path d="M237.0,53.8 L274.0,59.1 M279.0,59.8 L288.6,61.2 M293.4,61.9 L304.6,63.5" stroke="#1c1c1c" stroke-width="1.8" fill="none" />
<path d="M249.0,349.2 L296.0,358.0" stroke="#1c1c1c" stroke-width="1.8" fill="none" />
<path d="M248.0,349.0 L238.9,384.0 M236.9,392.0 L235.3,398.0 M233.2,406.0 L223.4,444.0 M221.6,451.0 L219.3,460.0" stroke="#1c1c1c" stroke-width="1.8" fill="none" />
<path d="M217.5,468.0 L211.0,469.0" stroke="#1c1c1c" stroke-width="1.8" fill="none" />
<path d="M152.8,458.4 L183.5,464.0" stroke="#1c1c1c" stroke-width="1.8" fill="none" />
<path d="M518.7,257.0 L518.8,291.0 M518.9,310.0 L518.9,326.0 M518.9,332.0 L519.1,370.0 M519.1,379.0 L519.1,385.6 M519.1,393.4 L519.3,433.0" stroke="#1c1c1c" stroke-width="1.8" fill="none" />
<path d="M519.6,465.0 L520.0,482.0" stroke="#1c1c1c" stroke-width="1.8" fill="none" stroke-opacity=".55"/>
<path d="M523.0,547.0 L523.0,588.0" stroke="#1c1c1c" stroke-width="1.8" fill="none" />
<path d="M747.0,241.0 L776.0,267.8 M780.0,271.5 L788.0,278.9 M792.0,282.6 L800.0,290.0" stroke="#1c1c1c" stroke-width="1.8" fill="none" />
<path d="M722.0,481.0 L752.0,508.5 M756.0,512.2 L766.0,521.4 M770.0,525.1 L783.0,537.0" stroke="#1c1c1c" stroke-width="1.8" fill="none" />
<path d="M783.0,537.0 L764.1,560.3 M759.1,566.6 L736.5,594.6 M731.5,600.8 L727.7,605.4 M722.7,611.7 L700.0,639.7 M695.0,645.9 L691.2,650.6 M686.2,656.8 L665.0,683.0" stroke="#1c1c1c" stroke-width="1.8" fill="none" />
<path d="M762,562 L754,572" stroke="#f2f2f2" stroke-width="2.2"/>
<path d="M665.0,683.0 L690.4,705.6 M697.1,711.6 L726.9,738.3 M733.6,744.3 L738.9,748.9 M745.6,754.9 L775.4,781.6 M782.1,787.6 L787.3,792.2 M794.1,798.2 L823.9,824.8 M830.6,830.8 L835.8,835.5 M842.5,841.5 L870.0,866.0" stroke="#1c1c1c" stroke-width="1.8" fill="none" />
<path d="M884.0,878.0 L918.0,908.0" stroke="#1c1c1c" stroke-width="1.8" fill="none" />
<path d="M888.0,467.0 L888.8,508.0 M889.2,532.0 L889.7,560.0 M889.8,568.0 L890.0,574.0 M890.1,582.0 L890.8,620.0 M890.9,628.0 L891.0,634.0 M891.2,642.0 L891.6,664.0" stroke="#1c1c1c" stroke-width="1.8" fill="none" />
<path d="M891.8,676.0 L892.2,699.0" stroke="#1c1c1c" stroke-width="1.8" fill="none" stroke-opacity=".6"/>
<path d="M892.0,757.0 L892.4,799.0" stroke="#1c1c1c" stroke-width="1.8" fill="none" />
<path d="M193.5,105.5 L227.5,65.5" stroke="#000" stroke-width="2.4" fill="none" stroke-linecap="butt"/>
<path d="M346.0,156.0 L400.0,167.0" stroke="#000" stroke-width="2.4" fill="none" stroke-linecap="butt"/>
<path d="M561.0,167.0 L527.0,208.0" stroke="#000" stroke-width="2.4" fill="none" stroke-linecap="butt"/>
<path d="M439.0,233.0 L469.0,268.0" stroke="#000" stroke-width="2.4" fill="none" stroke-linecap="butt"/>
<path d="M422.0,318.0 L463.0,352.0" stroke="#000" stroke-width="2.4" fill="none" stroke-linecap="butt"/>
<path d="M653.0,255.0 L703.0,272.0" stroke="#000" stroke-width="2.4" fill="none" stroke-linecap="butt"/>
<path d="M858.0,248.0 L821.0,285.0" stroke="#000" stroke-width="2.4" fill="none" stroke-linecap="butt"/>
<path d="M916.0,379.0 L895.0,418.0" stroke="#000" stroke-width="2.4" fill="none" stroke-linecap="butt"/>
<path d="M603.0,406.0 L576.0,456.0" stroke="#000" stroke-width="2.4" fill="none" stroke-linecap="butt"/>
<path d="M135.0,395.0 L145.0,444.0" stroke="#000" stroke-width="2.4" fill="none" stroke-linecap="butt"/>
<path d="M824.0,445.0 L843.0,488.0" stroke="#000" stroke-width="2.4" fill="none" stroke-linecap="butt"/>
<path d="M799.0,526.0 L833.0,566.0" stroke="#000" stroke-width="2.4" fill="none" stroke-linecap="butt"/>
<path d="M452.0,605.0 L504.0,593.0" stroke="#000" stroke-width="2.4" fill="none" stroke-linecap="butt"/>
<path d="M906.0,823.0 L946.0,836.0" stroke="#000" stroke-width="2.4" fill="none" stroke-linecap="butt"/>
<path d="M873.0,952.0 L912.0,923.0" stroke="#000" stroke-width="2.4" fill="none" stroke-linecap="butt"/>
</g>
<g class="lbl">
<text transform="translate(171.4,127.0) scale(1.214,1)" x="0" y="0">72</text>
<text transform="translate(402.4,177.2) scale(1.210,1)" x="0" y="0">4</text>
<text transform="translate(552.9,161.0) scale(1.214,1)" x="0" y="0">70</text>
<text transform="translate(423.4,226.0) scale(1.207,1)" x="0" y="0">3</text>
<text transform="translate(406.2,314.0) scale(1.207,1)" x="0" y="0">2</text>
<text transform="translate(632.1,259.0) scale(1.250,1)" x="0" y="0">5</text>
<text transform="translate(859.4,243.5) scale(1.214,1)" x="0" y="0">72</text>
<text transform="translate(907.9,370.5) scale(1.214,1)" x="0" y="0">70</text>
<text transform="translate(600.2,402.0) scale(0.937,1)" x="0" y="0">1</text>
<text transform="translate(115.9,386.0) scale(1.193,1)" x="0" y="0">72</text>
<text transform="translate(812.4,439.0) scale(1.250,1)" x="0" y="0">3</text>
<text transform="translate(786.2,521.0) scale(1.207,1)" x="0" y="0">2</text>
<text transform="translate(415.9,618.0) scale(1.144,1)" x="0" y="0">71</text>
<text transform="translate(951.9,847.0) scale(1.144,1)" x="0" y="0">71</text>
<text transform="translate(845.9,970.0) scale(1.235,1)" x="0" y="0">72</text>
</g>
</svg>
</body></html>
